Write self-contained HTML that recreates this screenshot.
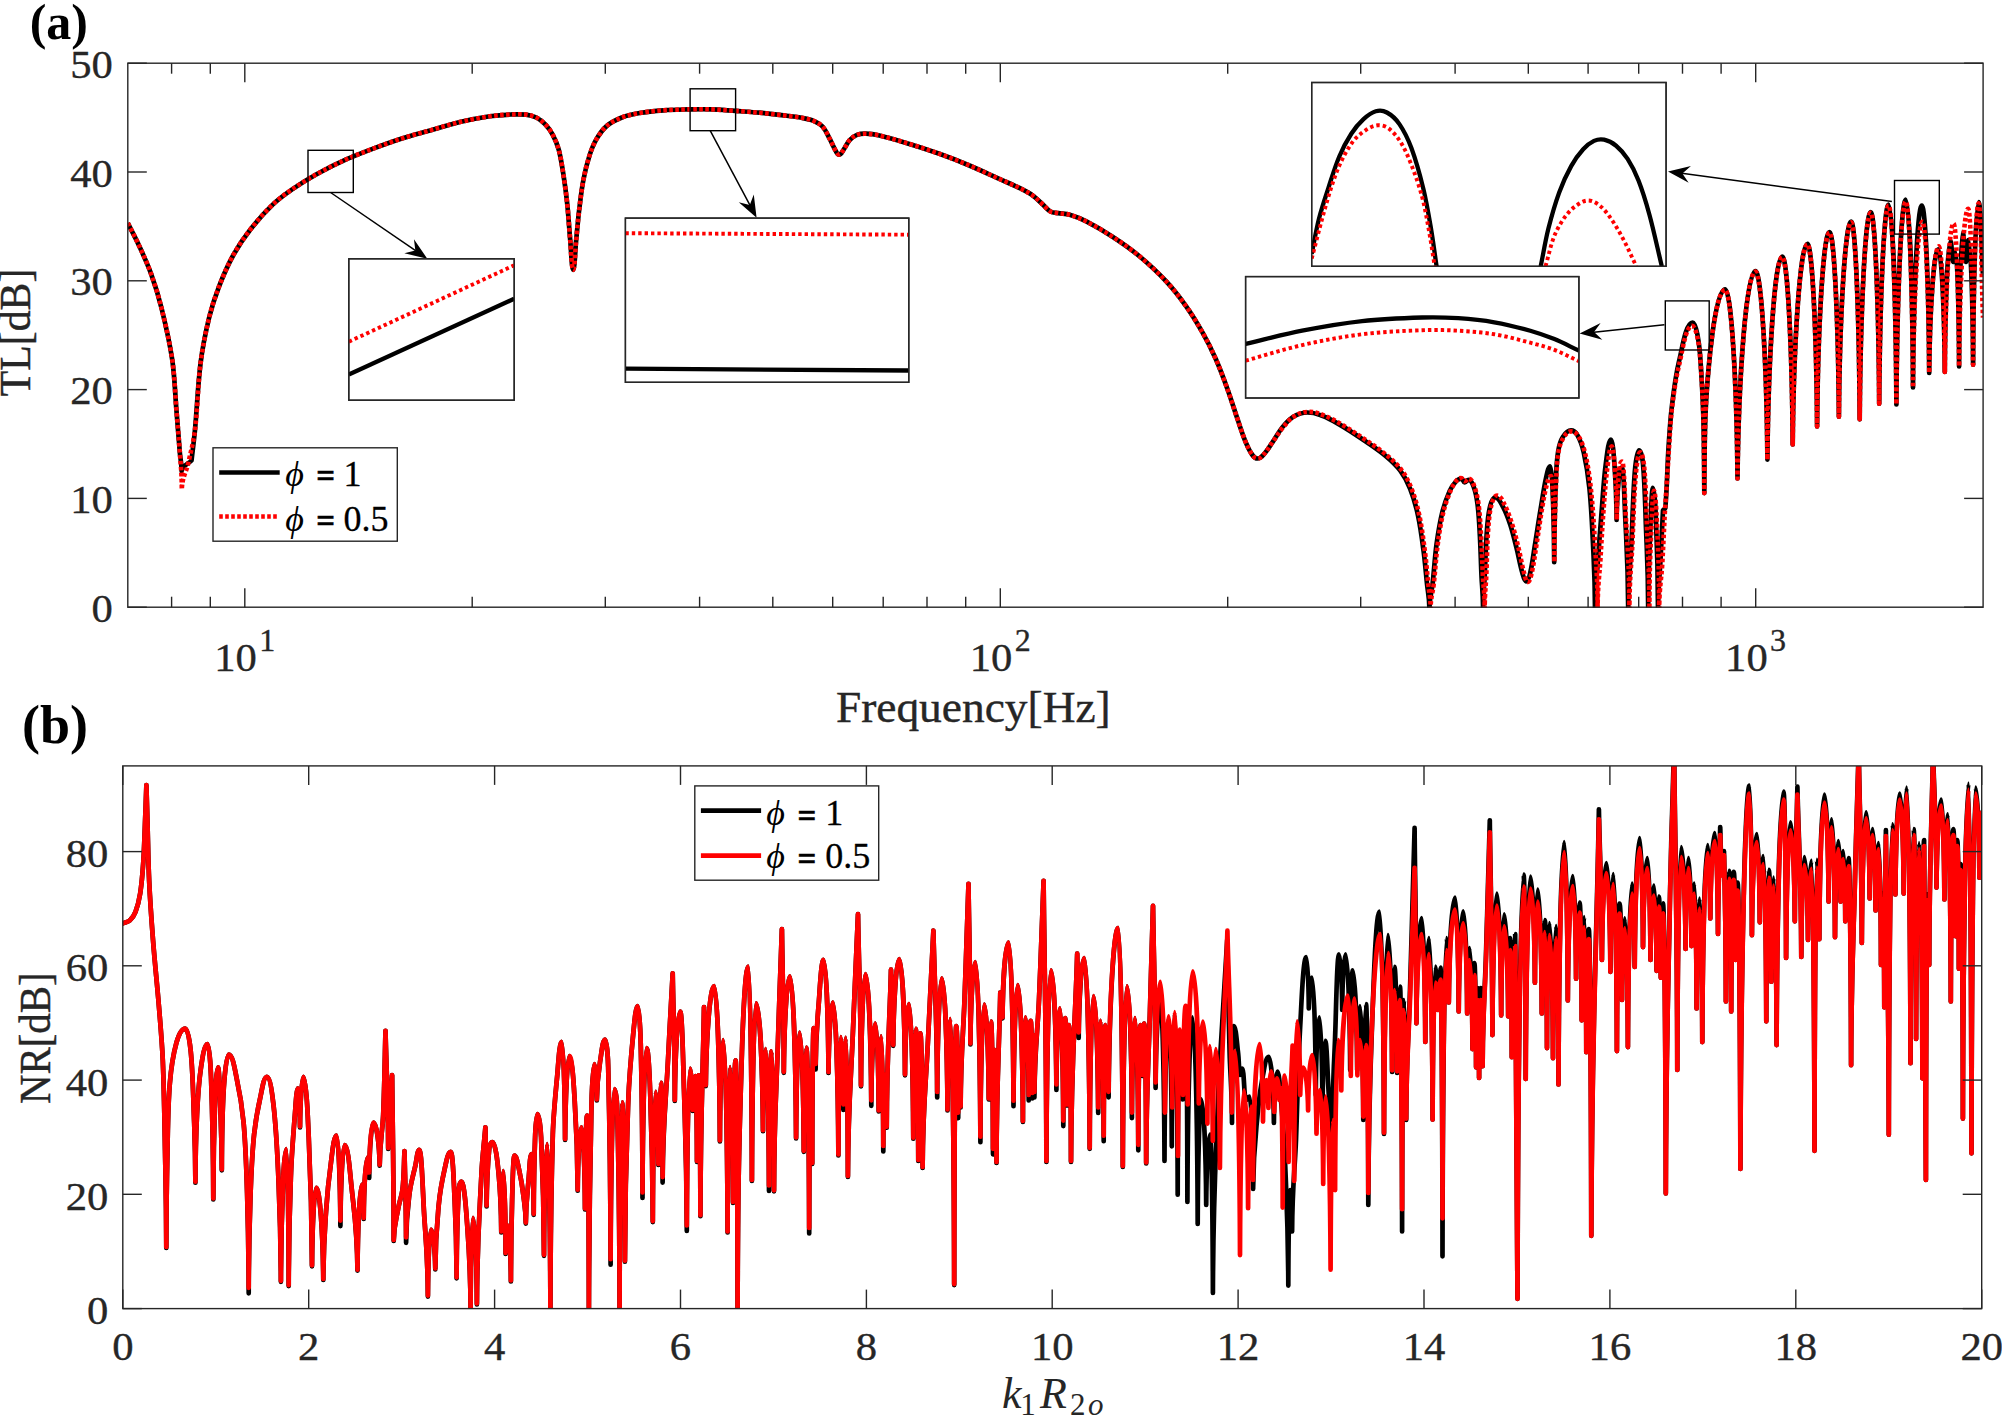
<!DOCTYPE html>
<html lang="en">
<head>
<meta charset="utf-8">
<title>TL and NR versus frequency</title>
<style>
html,body{margin:0;padding:0;background:#fff}
body{width:2002px;height:1415px;overflow:hidden}
svg{display:block}
.ax{fill:none;stroke:#262626;stroke-width:1.4}
.bx{fill:none;stroke:#000;stroke-width:1.4}
.arw{stroke:#000;stroke-width:1.5;fill:none}
.arh{fill:#000;stroke:none}
.kb{fill:none;stroke:#000;stroke-width:4.7;stroke-linejoin:round}
.rd{fill:none;stroke:#f00;stroke-width:4.6;stroke-dasharray:3.6 2.4;stroke-linejoin:round}
.kbi{fill:none;stroke:#000;stroke-width:4.3;stroke-linejoin:round}
.rdi{fill:none;stroke:#f00;stroke-width:3.9;stroke-dasharray:3.4 3;stroke-linejoin:round}
.rs{fill:none;stroke:#f00;stroke-width:4.7}
.kb2{fill:none;stroke:#000;stroke-width:4.7;stroke-linejoin:round;stroke-linecap:round}
.rd2{fill:none;stroke:#f00;stroke-width:4.7;stroke-linejoin:round;stroke-linecap:round}
text{font-family:"Liberation Serif", "DejaVu Serif", serif;fill:#262626}
.tk{font-size:40px;stroke:#262626;stroke-width:.35}
.sup{font-size:32px}
.lb{font-size:44px;stroke:#262626;stroke-width:.4}
.ttl{font-weight:bold;fill:#000}
.lg{font-size:36px;fill:#000;stroke:#000;stroke-width:.3}
.phi{font-style:italic;font-size:36px;stroke:none}
.eq{font-weight:bold;font-size:33px;stroke:#000;stroke-width:.5}
.xl{font-size:44px}
.it{font-style:italic}
.sb{font-size:31px}
.sbi{font-size:31px;font-style:italic}
</style>
</head>
<body>
<svg width="2002" height="1415" viewBox="0 0 2002 1415">
<rect x="0" y="0" width="2002" height="1415" fill="#fff"/>
<defs>
<clipPath id="ca"><rect x="127.8" y="63.2" width="1855.3" height="544.8"/></clipPath>
<clipPath id="cb"><rect x="122.8" y="765.9" width="1858.9" height="542.7"/></clipPath>
<clipPath id="ci1"><rect x="348.8" y="258.8" width="165.4" height="141.4"/></clipPath>
<clipPath id="ci2"><rect x="625.4" y="218.1" width="283.4" height="164.2"/></clipPath>
<clipPath id="ci3"><rect x="1245.6" y="276.6" width="333.3" height="121.4"/></clipPath>
<clipPath id="ci4"><rect x="1311.7" y="82.5" width="354.4" height="183.8"/></clipPath>
</defs>
<g id="plot-a">
<g clip-path="url(#ca)">
<path class="kb" d="M127.8 223C131.3 230.1 135.1 237 138.4 244.2C142.9 254 147.5 263.8 151.1 273.9C155.3 285.5 158.9 297.3 161.8 309.2C165.9 326 169.8 343 172.3 360.1C174.7 376.9 175.1 394 176.5 411C177.7 425.1 178.7 439.3 179.9 453.4C180.4 459.2 181.5 462.1 181.6 470.9C182.2 465.7 188.2 464 191.5 460.5C192.6 450.6 194 440.7 194.9 430.8C197 408.2 197.8 385.4 200.6 362.9C202.5 347.7 205.5 332.6 209.1 317.7C211.7 307.1 215.1 296.7 219 286.6C223.1 276 227.6 265.5 233.1 255.5C238 246.6 243.7 238 250 230C257 221 264.5 212.5 272.7 204.6C278.7 198.8 285.6 193.9 292.5 189.1C300.7 183.5 309.2 178.3 317.9 173.5C327.1 168.4 336.6 163.7 346.2 159.4C355.5 155.2 365 151.7 374.5 148.1C383.8 144.6 393.2 141.2 402.7 138.2C411.7 135.3 420.9 133 430 130.4C440 127.6 449.8 124.4 459.9 122C469.8 119.7 479.8 117.8 489.9 116.3C496.9 115.3 503.9 114.8 510.9 114.5C515.9 114.3 520.9 114 525.9 114.6C529.5 115 533.1 115.9 536.3 117.5C539.7 119.2 542.7 121.7 545.3 124.4C548.3 127.5 550.8 131.1 552.8 134.9C555.3 139.7 557.4 144.7 558.8 149.9C560.9 157.8 562 165.9 563.3 173.9C564.8 183.8 566.2 193.8 567.2 203.8C568.5 215.8 569.1 227.8 570.2 239.8C571.1 249.8 571.7 269.8 573.2 269.8C574.7 269.8 575.2 249.8 576.2 239.8C577.2 229.8 578 219.8 579.2 209.8C580.4 199.8 581.5 189.8 583.4 179.9C584.9 171.8 586.9 163.8 589.4 155.9C591.2 150.2 593.3 144.6 596.3 139.4C599.2 134.5 602.5 129.6 606.8 125.9C611.1 122.2 616.5 119.6 621.8 117.5C627.5 115.3 633.6 114 639.7 113C647.6 111.6 655.7 110.9 663.7 110.3C671.7 109.7 679.7 109.6 687.7 109.4C695.7 109.3 703.7 109.1 711.7 109.4C719.7 109.6 727.6 110.4 735.6 110.9C743.6 111.5 751.6 112 759.6 112.7C767.6 113.5 775.6 114.4 783.6 115.4C789.6 116.1 795.6 116.7 801.6 117.8C805.6 118.5 809.7 119.2 813.5 120.8C816.8 122.2 820.1 123.8 822.5 126.5C825.8 130.2 827.6 135 830 139.4C832.1 143.3 833.7 147.6 836 151.4C836.7 152.7 837.5 154.6 839 154.6C841.2 154.6 842.2 151.6 843.5 149.9C845.7 146.9 847 143.1 849.5 140.3C851.6 138 854.1 136 857 134.9C859.8 133.8 863 133.6 866 133.7C870.5 133.8 875.1 134.5 879.5 135.5C889.6 137.9 899.5 140.9 909.4 143.9C919.5 147 929.5 150.2 939.4 153.8C949.5 157.4 959.5 161.3 969.4 165.5C979.7 169.8 989.7 174.6 999.9 179.2C1006.6 182.2 1013.4 184.9 1019.9 188.2C1024.5 190.5 1029 192.8 1033.2 195.8C1036.8 198.4 1039.8 201.8 1043.1 204.8C1045.5 207 1047.5 209.9 1050.4 211.5C1052.7 212.8 1055.5 212.7 1058.1 213.1C1062 213.8 1066 213.7 1069.7 214.8C1075.4 216.5 1081 218.7 1086.3 221.4C1095.4 226.1 1104.3 231.4 1112.9 237C1122.1 243 1131.1 249.3 1139.5 256.3C1148.8 264.1 1157.7 272.3 1166 281.2C1173.3 289 1179.8 297.4 1186 306.1C1192.1 314.6 1197.5 323.6 1202.6 332.7C1207.5 341.3 1211.9 350.2 1215.9 359.3C1220.2 369.1 1223.9 379.1 1227.5 389.2C1231.1 399.1 1234.1 409.2 1237.5 419.1C1240.2 426.9 1242.6 434.8 1245.8 442.4C1247.6 446.8 1249.6 451.2 1252.4 455C1253.6 456.7 1254.9 458.5 1257.4 458.5C1260.8 458.5 1262.3 456 1264.1 454C1267.3 450.5 1269.7 446.3 1272.4 442.4C1275.8 437.5 1278.6 432.1 1282.3 427.4C1285.2 423.7 1288.3 419.8 1292.3 417.4C1296.8 414.7 1299.8 412.5 1307.2 412.5C1314.7 412.5 1317.4 414 1322.2 415.8C1328 417.9 1333.5 421 1338.8 424.1C1346.8 428.7 1354.5 433.8 1362.1 439C1370 444.3 1378 449.5 1385.3 455.6C1390.7 460.1 1396.1 464.9 1400.3 470.6C1404.5 476.2 1407.7 482.4 1410.2 488.9C1413.6 497.5 1416.1 506.4 1418 515.4C1420.6 527.4 1422.1 539.7 1423.7 551.9C1425.1 562.5 1425.9 573.2 1427 583.8C1427.8 592.2 1429.3 596.4 1429.4 609C1429.6 596.4 1431.7 592.2 1432.6 583.8C1434.1 570.5 1434.8 557.1 1436.6 543.9C1438.1 533.2 1439.8 522.4 1442.4 511.9C1444.2 504.8 1446.6 497.8 1449.6 491.1C1451.2 487.6 1453.3 484.3 1455.9 481.5C1457.3 480 1458.7 478.6 1461.5 478.6C1463.1 478.6 1463.1 482.3 1464.7 482.3C1466.7 482.3 1466.7 479.9 1468.7 479.9C1471.1 479.9 1472.6 483.8 1473.5 486.3C1475.6 491.9 1476.7 497.9 1477.5 503.9C1478.9 514.5 1479.3 525.2 1479.9 535.9C1480.6 549.2 1480.9 562.5 1481.5 575.8C1482 586.9 1483 592.4 1483.1 609C1483.2 592.4 1484.2 586.9 1484.7 575.8C1485.5 559.8 1485.8 543.8 1487.1 527.9C1487.7 520.4 1488.4 512.8 1490.3 505.5C1491.1 502.5 1492.7 497.5 1495.1 497.5C1498.7 497.5 1500.5 502.4 1502.3 505.5C1505.7 511.6 1508.1 518.1 1510.3 524.7C1512.9 532.6 1514.7 540.7 1516.7 548.7C1518.7 556.6 1520 564.7 1522.3 572.6C1523.2 575.7 1524.3 581.4 1526.3 581.4C1528.3 581.4 1529.6 575.7 1530.3 572.6C1532.5 563.2 1533.5 553.5 1535.1 543.9C1537 532.2 1538.7 520.4 1540.7 508.7C1542.5 498 1543.9 487.3 1546.3 476.7C1547.1 473.1 1548.3 466.3 1550.3 466.3C1551.4 466.3 1552.3 482.1 1552.6 490C1553.6 514.1 1554.1 526.1 1554.2 562.2C1554.3 521 1554.9 507.3 1555.9 479.9C1556.2 470.3 1556.6 460.7 1558.2 451.2C1559 446.2 1560.3 441.1 1563 436.8C1564.8 433.9 1567 430.4 1571 430.4C1574.2 430.4 1576.1 432.9 1577.4 435.2C1580.5 440.6 1582.4 446.6 1583.8 452.7C1586.4 464.3 1588.2 476.1 1589.4 487.9C1591.3 506.5 1592.1 525.2 1593 543.9C1594 565.6 1594.9 576.5 1595 609C1595.2 584.4 1596.9 576.2 1598 559.8C1599.1 543.8 1600.3 527.9 1601.6 511.9C1602.9 495.9 1603.7 479.8 1605.8 463.9C1606.9 455.7 1608.4 439.6 1611 439.6C1612.7 439.6 1613.8 455.7 1614.4 463.9C1615.7 482.5 1616.5 491.9 1616.6 519.9C1616.8 495.2 1617.9 486.9 1619.6 470.5C1619.7 469.2 1620.8 467.5 1622 467.5C1623.5 467.5 1624.4 497.1 1625 511.9C1626.4 544.3 1628 560.5 1628.2 609C1628.4 576.5 1630.4 565.6 1631.4 543.9C1632.6 519.9 1632.9 495.8 1634.8 471.9C1635.4 464.6 1636.9 450.4 1639 450.4C1641 450.4 1642.6 459.2 1643 463.9C1644.9 485.2 1645.2 506.6 1646 527.9C1647 554.9 1648.1 568.5 1648.2 609C1648.3 568.5 1649.4 554.9 1650.4 527.9C1650.9 514.6 1651.7 487.9 1652.9 487.9C1654.2 487.9 1655.3 503.9 1655.6 511.9C1657 544.2 1657.9 560.5 1658 609C1658.2 584.5 1659.7 576.3 1660.5 560C1661.3 543.4 1662.2 526.9 1663 510.3C1663.8 509.5 1665.2 509.1 1665.3 508C1667.1 488 1667.2 468 1668.5 448C1669.4 434.7 1670.1 421.3 1671.7 408C1673.6 392.4 1675.3 376.7 1679 361.5C1682.3 348.1 1685.8 322.5 1692.6 322.5C1696.3 322.5 1699.3 343.9 1700.1 355C1703.3 400.9 1704 424.1 1704.3 493.1C1704.6 424.1 1705.2 400.8 1709.9 355C1712.2 332.6 1717.5 289.3 1725.1 289.3C1731.3 289.3 1736.8 383.9 1737.5 478.5C1738.6 374.8 1746.5 271.1 1755.4 271.1C1761.4 271.1 1766.7 365.4 1767.4 459.6C1768.3 358.1 1774.8 256.5 1782.3 256.5C1787.5 256.5 1792.1 350.4 1792.7 444.4C1793.6 344.1 1800.1 243.8 1807.4 243.8C1812.2 243.8 1816.5 335.1 1817.1 426.5C1817.8 329.3 1823.3 232.1 1829.5 232.1C1834.2 232.1 1838.3 324.4 1838.9 416.7C1839.6 319.2 1845.1 221.7 1851.2 221.7C1855.5 221.7 1859.2 320.5 1859.7 419.3C1860.4 315.6 1865.2 212 1870.7 212C1875 212 1878.7 307.9 1879.2 403.7C1879.8 304.1 1883.9 204.5 1888.6 204.5C1892.5 204.5 1895.9 304.4 1896.4 404.4C1897 302 1901.1 199.6 1905.8 199.6C1909.4 199.6 1912.6 293.6 1913 387.5C1913.5 296.5 1917.4 205.5 1921.8 205.5C1925.5 205.5 1928.8 289.2 1929.2 372.9C1929.7 311.1 1933.8 249.4 1938.3 249.4C1941.5 249.4 1944.4 310.6 1944.8 371.9C1945.1 306.4 1947.7 241 1950.5 241C1951.8 241 1951.8 262 1953.2 262C1954.3 262 1954.3 252 1955.5 252C1957.3 252 1958.9 309.2 1959.1 366.4C1959.3 299.2 1960.8 232 1962.6 232C1964.3 232 1964.3 262 1966 262C1967.2 262 1967.2 240 1968.4 240C1970.8 240 1972.8 302.4 1973.1 364.7C1973.4 283.4 1975.8 202.2 1978.6 202.2C1980.8 202.2 1981.5 249.9 1982.9 273.7"/>
<path class="rd" d="M127.8 223C131.3 230.1 135.1 237 138.4 244.2C142.9 254 147.5 263.8 151.1 273.9C155.3 285.5 158.9 297.3 161.8 309.2C165.9 326 169.8 343 172.3 360.1C174.7 376.9 175.1 394 176.5 411C177.7 425.1 178.9 439.3 179.9 453.4C180.7 465.5 181.7 471.5 181.8 489.6C182.2 476.6 186.3 472.2 188.2 463.5C190.6 452.6 193.5 441.8 194.9 430.8C197.7 408.3 197.8 385.4 200.6 362.9C202.5 347.7 205.5 332.6 209.1 317.7C211.7 307.1 215.1 296.7 219 286.6C223.1 276 227.6 265.5 233.1 255.5C238 246.6 243.7 238 250 230C257 221 264.5 212.5 272.7 204.6C278.7 198.8 285.6 193.9 292.5 189.1C300.7 183.5 309.2 178.3 317.9 173.5C327.1 168.4 336.6 163.7 346.2 159.4C355.5 155.2 365 151.7 374.5 148.1C383.8 144.6 393.2 141.2 402.7 138.2C411.7 135.3 420.9 133 430 130.4C440 127.6 449.8 124.4 459.9 122C469.8 119.7 479.8 117.8 489.9 116.3C496.9 115.3 503.9 114.8 510.9 114.5C515.9 114.3 520.9 114 525.9 114.6C529.5 115 533.1 115.9 536.3 117.5C539.7 119.2 542.7 121.7 545.3 124.4C548.3 127.5 550.8 131.1 552.8 134.9C555.3 139.7 557.4 144.7 558.8 149.9C560.9 157.8 562 165.9 563.3 173.9C564.8 183.8 566.2 193.8 567.2 203.8C568.5 215.8 569.1 227.8 570.2 239.8C571.1 249.8 571.7 269.8 573.2 269.8C574.7 269.8 575.2 249.8 576.2 239.8C577.2 229.8 578 219.8 579.2 209.8C580.4 199.8 581.5 189.8 583.4 179.9C584.9 171.8 586.9 163.8 589.4 155.9C591.2 150.2 593.3 144.6 596.3 139.4C599.2 134.5 602.5 129.6 606.8 125.9C611.1 122.2 616.5 119.6 621.8 117.5C627.5 115.3 633.6 114 639.7 113C647.6 111.6 655.7 110.9 663.7 110.3C671.7 109.7 679.7 109.6 687.7 109.4C695.7 109.3 703.7 109.1 711.7 109.4C719.7 109.6 727.6 110.4 735.6 110.9C743.6 111.5 751.6 112 759.6 112.7C767.6 113.5 775.6 114.4 783.6 115.4C789.6 116.1 795.6 116.7 801.6 117.8C805.6 118.5 809.7 119.2 813.5 120.8C816.8 122.2 820.1 123.8 822.5 126.5C825.8 130.2 827.6 135 830 139.4C832.1 143.3 833.7 147.6 836 151.4C836.7 152.7 837.5 154.6 839 154.6C841.2 154.6 842.2 151.6 843.5 149.9C845.7 146.9 847 143.1 849.5 140.3C851.6 138 854.1 136 857 134.9C859.8 133.8 863 133.6 866 133.7C870.5 133.8 875.1 134.5 879.5 135.5C889.6 137.9 899.5 140.9 909.4 143.9C919.5 147 929.5 150.2 939.4 153.8C949.5 157.4 959.5 161.3 969.4 165.5C979.7 169.8 989.7 174.6 999.9 179.2C1006.6 182.2 1013.4 184.9 1019.9 188.2C1024.5 190.5 1029 192.8 1033.2 195.8C1036.8 198.4 1039.8 201.8 1043.1 204.8C1045.5 207 1047.5 209.9 1050.4 211.5C1052.7 212.8 1055.5 212.7 1058.1 213.1C1062 213.8 1066 213.7 1069.7 214.8C1075.4 216.5 1081 218.7 1086.3 221.4C1095.4 226.1 1104.3 231.4 1112.9 237C1122.1 243 1131.1 249.3 1139.5 256.3C1148.8 264.1 1157.7 272.3 1166 281.2C1173.3 289 1179.8 297.4 1186 306.1C1192.1 314.6 1197.5 323.6 1202.6 332.7C1207.5 341.3 1211.9 350.2 1215.9 359.3C1220.2 369.1 1223.9 379.1 1227.5 389.2C1231.1 399.1 1234.1 409.2 1237.5 419.1C1240.2 426.9 1242.6 434.8 1245.8 442.4C1247.6 446.8 1249.6 451.2 1252.4 455C1253.6 456.7 1254.9 458.5 1257.4 458.5C1260.8 458.5 1262.3 456 1264.1 454C1267.3 450.5 1269.6 446.3 1272.4 442.4C1276.1 437.2 1279.4 431.7 1283.5 426.8C1286.5 423.2 1289.5 419.2 1293.5 416.8C1298 414.1 1301 411.9 1308.4 411.9C1315.9 411.9 1318.6 413.4 1323.4 415.2C1329.2 417.3 1334.7 420.4 1340 423.5C1348 428.1 1355.7 433.2 1363.3 438.4C1371.2 443.7 1379.2 448.9 1386.5 455C1391.9 459.5 1397.3 464.3 1401.5 470C1405.7 475.6 1408.9 481.8 1411.4 488.3C1414.8 496.9 1417.3 505.8 1419.2 514.8C1421.8 526.8 1423.3 539.1 1424.9 551.3C1426.3 561.9 1427.1 572.6 1428.2 583.2C1429 591.8 1430.5 596.1 1430.6 609C1430.8 596.4 1432.9 592.2 1433.8 583.8C1435.3 570.5 1436 557.1 1437.8 543.9C1439.2 533.2 1440.9 522.4 1443.4 511.9C1445.1 504.8 1447.6 497.9 1450.4 491.1C1451.9 487.5 1453.8 484 1456.2 481C1457.4 479.5 1458.6 478 1461 478C1462.8 478 1462.8 481.3 1464.7 481.3C1466.8 481.3 1466.8 478.6 1468.9 478.6C1471.6 478.6 1473.2 483.4 1474.3 486.3C1476.4 491.9 1477.7 497.9 1478.5 503.9C1480 514.5 1480.4 525.2 1481.1 535.9C1481.9 549.2 1482.2 562.5 1482.9 575.8C1483.4 586.9 1484.6 592.4 1484.7 609C1484.8 592.4 1485.8 586.9 1486.3 575.8C1487 559.8 1487.1 543.8 1488.3 527.9C1488.9 520 1489.5 512.1 1491.5 504.5C1492.4 501.1 1494.2 495.5 1497 495.5C1500.8 495.5 1502.7 501 1504.5 504.5C1507.8 510.9 1510.1 517.8 1512.3 524.7C1514.8 532.6 1516.7 540.7 1518.7 548.7C1520.6 556.6 1521.8 564.7 1524 572.6C1524.9 575.9 1525.9 582 1527.8 582C1529.8 582 1531 575.9 1531.8 572.6C1534 563.1 1535.1 553.5 1536.6 543.9C1538.5 532.2 1540 520.4 1542 508.7C1543.5 500 1544.9 491.2 1547.3 482.7C1548 480.2 1549.2 476 1551.1 476C1552 476 1552.8 488.6 1553 495C1553.9 517.4 1554.3 528.6 1554.4 562.2C1554.5 521 1555.2 507.3 1556.2 479.9C1556.6 470.3 1557 460.7 1558.6 451.2C1559.4 446.5 1560.9 441.8 1563.4 437.8C1565.2 435 1567.3 431.4 1571.2 431.4C1574.8 431.4 1576.8 433.8 1578.4 436.2C1581.6 441.2 1583.6 446.9 1585 452.7C1587.8 464.3 1589.5 476.1 1590.8 487.9C1592.8 506.5 1594 525.2 1595 543.9C1596.2 565.6 1597.4 576.5 1597.6 609C1597.8 584.4 1599.4 576.2 1600.4 559.8C1601.4 543.8 1602.2 527.9 1603.4 511.9C1604.5 497.6 1605.4 483.2 1607.2 468.9C1608.2 461.3 1609.5 446.4 1611.8 446.4C1613.3 446.4 1614.3 461.4 1614.8 468.9C1616 485.9 1616.7 494.4 1616.8 519.9C1617 492.9 1617.9 483.9 1619.6 466C1619.8 464.3 1620.9 461.5 1622.2 461.5C1623.9 461.5 1624.8 495.1 1625.6 511.9C1627.2 544.3 1629.2 560.5 1629.4 609C1629.6 576.5 1631.4 565.6 1632.4 543.9C1633.5 520.9 1633.8 497.8 1635.8 474.9C1636.4 467.3 1638 452.4 1640.2 452.4C1642.2 452.4 1643.8 461.9 1644.2 466.9C1646 487.2 1646.3 507.6 1647 527.9C1648 554.9 1649.3 568.5 1649.4 609C1649.5 568.5 1650.3 554.9 1651.4 527.9C1651.9 515.5 1652.7 490.9 1654 490.9C1655.3 490.9 1656.2 507.5 1656.6 515.9C1658 546.9 1659 562.5 1659.2 609C1659.4 587 1661.3 579.7 1662.2 565C1663.3 546.7 1664 528.3 1665 510C1665.6 500 1666.4 490 1667 480C1667.7 469.3 1668.3 458.7 1669 448C1669.9 434.7 1670.4 421.3 1672 408C1673.8 393.4 1675.7 378.8 1679.2 364.5C1682.4 351.3 1685.7 325.8 1692.2 325.8C1696.2 325.8 1699.3 345.6 1700.1 356C1703.4 401.6 1704 424.6 1704.3 493.1C1704.6 424.1 1705.2 400.8 1709.9 355C1712.2 332.8 1717.5 289.8 1725.1 289.8C1731.3 289.8 1736.8 384.1 1737.5 478.5C1738.6 375.1 1746.5 271.6 1755.4 271.6C1761.4 271.6 1766.7 365.6 1767.4 459.6C1768.3 358.3 1774.8 257 1782.3 257C1787.5 257 1792.1 350.7 1792.7 444.4C1793.6 344.4 1800.1 244.3 1807.4 244.3C1812.2 244.3 1816.5 335.4 1817.1 426.5C1817.8 329.6 1823.3 232.6 1829.5 232.6C1834.2 232.6 1838.3 324.6 1838.9 416.7C1839.6 319.4 1845.1 222.2 1851.2 222.2C1855.5 222.2 1859.2 320.8 1859.7 419.3C1860.4 316.1 1865.2 212.8 1870.7 212.8C1875 212.8 1878.7 308.2 1879.2 403.7C1879.8 304.6 1883.9 205.5 1888.6 205.5C1892.5 205.5 1895.9 304.9 1896.4 404.4C1897 303 1901.1 201.6 1905.8 201.6C1909.4 201.6 1912.6 294.6 1913 387.5C1913.6 304.6 1917.7 221.7 1922.4 221.7C1925.8 221.7 1928.8 297.3 1929.2 372.9C1929.8 309.6 1934 246.4 1938.8 246.4C1941.8 246.4 1944.4 309.1 1944.8 371.9C1945.3 297.6 1949.2 223.4 1953.6 223.4C1956.3 223.4 1958.8 294.9 1959.1 366.4C1959.6 287.5 1963.7 208.7 1968.2 208.7C1970.7 208.7 1972.8 286.7 1973.1 364.7C1973.4 283.9 1975.8 203.2 1978.6 203.2C1980.8 203.2 1981.5 279.5 1983 317.6"/>
</g>
<rect class="ax" x="127.8" y="63.2" width="1855.3" height="544"/>
<line class="ax" x1="171.6" y1="607.2" x2="171.6" y2="596.7"/>
<line class="ax" x1="171.6" y1="63.2" x2="171.6" y2="73.7"/>
<line class="ax" x1="210.3" y1="607.2" x2="210.3" y2="596.7"/>
<line class="ax" x1="210.3" y1="63.2" x2="210.3" y2="73.7"/>
<line class="ax" x1="472.2" y1="607.2" x2="472.2" y2="596.7"/>
<line class="ax" x1="472.2" y1="63.2" x2="472.2" y2="73.7"/>
<line class="ax" x1="605.3" y1="607.2" x2="605.3" y2="596.7"/>
<line class="ax" x1="605.3" y1="63.2" x2="605.3" y2="73.7"/>
<line class="ax" x1="699.6" y1="607.2" x2="699.6" y2="596.7"/>
<line class="ax" x1="699.6" y1="63.2" x2="699.6" y2="73.7"/>
<line class="ax" x1="772.8" y1="607.2" x2="772.8" y2="596.7"/>
<line class="ax" x1="772.8" y1="63.2" x2="772.8" y2="73.7"/>
<line class="ax" x1="832.7" y1="607.2" x2="832.7" y2="596.7"/>
<line class="ax" x1="832.7" y1="63.2" x2="832.7" y2="73.7"/>
<line class="ax" x1="883.2" y1="607.2" x2="883.2" y2="596.7"/>
<line class="ax" x1="883.2" y1="63.2" x2="883.2" y2="73.7"/>
<line class="ax" x1="927" y1="607.2" x2="927" y2="596.7"/>
<line class="ax" x1="927" y1="63.2" x2="927" y2="73.7"/>
<line class="ax" x1="965.7" y1="607.2" x2="965.7" y2="596.7"/>
<line class="ax" x1="965.7" y1="63.2" x2="965.7" y2="73.7"/>
<line class="ax" x1="1227.7" y1="607.2" x2="1227.7" y2="596.7"/>
<line class="ax" x1="1227.7" y1="63.2" x2="1227.7" y2="73.7"/>
<line class="ax" x1="1360.7" y1="607.2" x2="1360.7" y2="596.7"/>
<line class="ax" x1="1360.7" y1="63.2" x2="1360.7" y2="73.7"/>
<line class="ax" x1="1455.1" y1="607.2" x2="1455.1" y2="596.7"/>
<line class="ax" x1="1455.1" y1="63.2" x2="1455.1" y2="73.7"/>
<line class="ax" x1="1528.3" y1="607.2" x2="1528.3" y2="596.7"/>
<line class="ax" x1="1528.3" y1="63.2" x2="1528.3" y2="73.7"/>
<line class="ax" x1="1588.1" y1="607.2" x2="1588.1" y2="596.7"/>
<line class="ax" x1="1588.1" y1="63.2" x2="1588.1" y2="73.7"/>
<line class="ax" x1="1638.7" y1="607.2" x2="1638.7" y2="596.7"/>
<line class="ax" x1="1638.7" y1="63.2" x2="1638.7" y2="73.7"/>
<line class="ax" x1="1682.5" y1="607.2" x2="1682.5" y2="596.7"/>
<line class="ax" x1="1682.5" y1="63.2" x2="1682.5" y2="73.7"/>
<line class="ax" x1="1721.1" y1="607.2" x2="1721.1" y2="596.7"/>
<line class="ax" x1="1721.1" y1="63.2" x2="1721.1" y2="73.7"/>
<line class="ax" x1="244.8" y1="607.2" x2="244.8" y2="588.2"/>
<line class="ax" x1="244.8" y1="63.2" x2="244.8" y2="82.2"/>
<line class="ax" x1="1000.3" y1="607.2" x2="1000.3" y2="588.2"/>
<line class="ax" x1="1000.3" y1="63.2" x2="1000.3" y2="82.2"/>
<line class="ax" x1="1755.7" y1="607.2" x2="1755.7" y2="588.2"/>
<line class="ax" x1="1755.7" y1="63.2" x2="1755.7" y2="82.2"/>
<line class="ax" x1="127.8" y1="607.2" x2="146.8" y2="607.2"/>
<line class="ax" x1="1983.1" y1="607.2" x2="1964.1" y2="607.2"/>
<text class="tk" x="112.8" y="621.8" text-anchor="end" textLength="21.3" lengthAdjust="spacingAndGlyphs">0</text>
<line class="ax" x1="127.8" y1="498.4" x2="146.8" y2="498.4"/>
<line class="ax" x1="1983.1" y1="498.4" x2="1964.1" y2="498.4"/>
<text class="tk" x="112.8" y="513" text-anchor="end" textLength="42.6" lengthAdjust="spacingAndGlyphs">10</text>
<line class="ax" x1="127.8" y1="389.6" x2="146.8" y2="389.6"/>
<line class="ax" x1="1983.1" y1="389.6" x2="1964.1" y2="389.6"/>
<text class="tk" x="112.8" y="404.2" text-anchor="end" textLength="42.6" lengthAdjust="spacingAndGlyphs">20</text>
<line class="ax" x1="127.8" y1="280.8" x2="146.8" y2="280.8"/>
<line class="ax" x1="1983.1" y1="280.8" x2="1964.1" y2="280.8"/>
<text class="tk" x="112.8" y="295.4" text-anchor="end" textLength="42.6" lengthAdjust="spacingAndGlyphs">30</text>
<line class="ax" x1="127.8" y1="172" x2="146.8" y2="172"/>
<line class="ax" x1="1983.1" y1="172" x2="1964.1" y2="172"/>
<text class="tk" x="112.8" y="186.6" text-anchor="end" textLength="42.6" lengthAdjust="spacingAndGlyphs">40</text>
<line class="ax" x1="127.8" y1="63.2" x2="146.8" y2="63.2"/>
<line class="ax" x1="1983.1" y1="63.2" x2="1964.1" y2="63.2"/>
<text class="tk" x="112.8" y="77.8" text-anchor="end" textLength="42.6" lengthAdjust="spacingAndGlyphs">50</text>
<text class="tk" x="214.2" y="670.5"><tspan textLength="42.6" lengthAdjust="spacingAndGlyphs">10</tspan><tspan class="sup" dx="2.4" dy="-19.6">1</tspan></text>
<text class="tk" x="969.7" y="670.5"><tspan textLength="42.6" lengthAdjust="spacingAndGlyphs">10</tspan><tspan class="sup" dx="2.4" dy="-19.6">2</tspan></text>
<text class="tk" x="1725.1" y="670.5"><tspan textLength="42.6" lengthAdjust="spacingAndGlyphs">10</tspan><tspan class="sup" dx="2.4" dy="-19.6">3</tspan></text>
<text class="lb" x="835.9" y="721.9" textLength="274.8" lengthAdjust="spacingAndGlyphs">Frequency[Hz]</text>
<text class="lb" transform="translate(29.7 396.3) rotate(-90)" textLength="127.7" lengthAdjust="spacingAndGlyphs">TL[dB]</text>
<text class="ttl" x="29.7" y="38.6" style="font-size:50px">(a)</text>
<rect class="bx" x="308" y="150.3" width="45.3" height="42.2"/>
<rect class="bx" x="690.1" y="88.8" width="45.5" height="41.9"/>
<rect class="bx" x="1665.3" y="300.9" width="43.9" height="49.1"/>
<rect class="bx" x="1894.5" y="180.5" width="44.8" height="53.6"/>
<line class="arw" x1="330.6" y1="192.5" x2="417.4" y2="251.9"/>
<polygon class="arh" transform="translate(427.3 258.7) rotate(34.4)" points="0,0 -22,-8.5 -14.5,0 -22,8.5"/>
<line class="arw" x1="710.2" y1="130.7" x2="751" y2="207.2"/>
<polygon class="arh" transform="translate(756.6 217.8) rotate(62)" points="0,0 -22,-8.5 -14.5,0 -22,8.5"/>
<line class="arw" x1="1664.4" y1="324.8" x2="1591.5" y2="332.4"/>
<polygon class="arh" transform="translate(1579.6 333.6) rotate(174.1)" points="0,0 -22,-8.5 -14.5,0 -22,8.5"/>
<line class="arw" x1="1891.9" y1="201.6" x2="1679.9" y2="173.1"/>
<polygon class="arh" transform="translate(1668 171.5) rotate(-172.3)" points="0,0 -22,-8.5 -14.5,0 -22,8.5"/>
<rect class="ax" x="348.8" y="258.8" width="165.4" height="141.4" fill="#fff"/>
<g clip-path="url(#ci1)">
<path class="kbi" d="M348.8 374.6L514.2 298.8"/>
<path class="rdi" d="M348.8 341.7L514.2 265.3"/>
</g>
<rect class="ax" x="348.8" y="258.8" width="165.4" height="141.4"/>
<rect class="ax" x="625.4" y="218.1" width="283.4" height="164.2" fill="#fff"/>
<g clip-path="url(#ci2)">
<path class="kbi" d="M625.4 368.7L908.8 370.5"/>
<path class="rdi" d="M625.4 233.2L908.8 234.7"/>
</g>
<rect class="ax" x="625.4" y="218.1" width="283.4" height="164.2"/>
<rect class="ax" x="1245.6" y="276.6" width="333.3" height="121.4" fill="#fff"/>
<g clip-path="url(#ci3)">
<path class="kbi" d="M1245.6 343.9C1264.4 339.5 1283.1 334.4 1302.1 330.7C1322 326.8 1342 323.3 1362.1 321.1C1382 318.9 1402.1 318.1 1422.2 317.5C1434.2 317.1 1446.3 317.4 1458.3 318.2C1470.4 319 1482.4 320.2 1494.3 322.3C1506.4 324.4 1518.4 327.4 1530.3 330.7C1538.5 333 1546.5 335.9 1554.4 339.1C1562.7 342.5 1570.7 346.8 1578.9 350.6"/>
<path class="rdi" d="M1245.6 360.7C1264.4 355.5 1283 349.4 1302.1 345.1C1321.9 340.6 1341.9 336.8 1362.1 334.3C1382 331.8 1402.1 331 1422.2 330.2C1434.2 329.7 1446.3 330 1458.3 330.7C1470.3 331.4 1482.4 332.3 1494.3 334.3C1506.5 336.3 1518.4 339.6 1530.3 342.7C1538.4 344.8 1546.6 346.9 1554.4 349.9C1562.8 353.1 1570.7 357.4 1578.9 361.2"/>
</g>
<rect class="ax" x="1245.6" y="276.6" width="333.3" height="121.4"/>
<rect class="ax" x="1311.7" y="82.5" width="354.4" height="183.8" fill="#fff"/>
<g clip-path="url(#ci4)">
<path class="kbi" d="M1311.7 253.8C1314.1 242.2 1316 230.5 1318.9 219C1321.6 208.4 1325.1 198.1 1328.5 187.7C1331.9 177.2 1335 166.6 1339.3 156.5C1342.6 148.6 1346.6 140.9 1351.3 133.7C1354.7 128.4 1358.7 123.5 1363.3 119.3C1367 116 1371 112.7 1375.8 111.3C1379.4 110.3 1383.6 110.7 1386.9 112.5C1391.9 115.2 1396.2 119.4 1399.4 124.1C1404.5 131.5 1408.3 139.7 1411.4 148.1C1416.3 161.4 1420 175.1 1423.4 188.9C1426.4 201.2 1428.5 213.7 1430.6 226.2C1432.9 239.5 1434.6 252.9 1436.6 266.3"/>
<path class="rdi" d="M1311.7 258.6C1316.5 240.6 1320.9 222.5 1326.1 204.6C1329.7 192.4 1333.2 180.2 1338.1 168.5C1342 159.3 1346.6 150.2 1352.5 142.1C1356 137.3 1360.8 133.4 1365.8 130.1C1369.4 127.7 1373.5 125.6 1377.8 125.3C1381.5 125 1385.6 126.2 1388.6 128.4C1393.5 132 1397.4 137 1400.6 142.1C1405.1 149.2 1408.3 157.1 1411.4 164.9C1415.5 175.5 1419.3 186.3 1422.2 197.3C1425.3 209.2 1427.2 221.3 1429.4 233.4C1431.4 244.3 1432.9 255.3 1434.7 266.3"/>
<path class="kbi" d="M1540.7 266.3C1543.3 253.7 1545.3 241 1548.4 228.6C1551.5 216.4 1554.9 204.3 1559.2 192.5C1562.5 183.4 1566.5 174.5 1571.2 166.1C1574.5 160.1 1578.6 154.4 1583.2 149.3C1586.3 145.9 1589.9 142.8 1594 140.9C1597.1 139.5 1600.8 139 1604.1 139.7C1608.5 140.6 1612.6 142.9 1616.1 145.7C1620.6 149.4 1624.4 154 1627.6 158.9C1632 165.7 1635.6 173 1638.5 180.5C1642.8 191.5 1646.2 202.8 1649.3 214.2C1654 231.4 1657.6 248.9 1661.8 266.3"/>
<path class="rdi" d="M1545.5 266.3C1548.5 256.1 1550.5 245.6 1554.4 235.8C1557.1 229 1560.9 222.6 1565.2 216.6C1568.2 212.5 1571.8 208.7 1576 205.8C1579.6 203.3 1583.6 200.5 1588 200.5C1592.4 200.5 1596.6 203 1600 205.8C1604.8 209.8 1608.5 215.1 1612 220.2C1616.5 226.7 1620.3 233.6 1624 240.6C1627.9 248 1631.3 255.8 1634.9 263.4C1635.4 264.4 1635.8 265.3 1636.2 266.3"/>
</g>
<rect class="ax" x="1311.7" y="82.5" width="354.4" height="183.8"/>
<rect class="ax" x="213" y="447.8" width="184.3" height="93.4" fill="#fff"/>
<line class="kb" x1="219.2" y1="472.5" x2="279.7" y2="472.5"/>
<line class="rd" x1="219.2" y1="516.5" x2="277.5" y2="516.5"/>
<text class="lg" x="285.2" y="485.8"><tspan class="phi">&#981;</tspan><tspan class="eq" x="316.2" dy="1.6">=</tspan><tspan x="343.6" dy="-1.6">1</tspan></text>
<text class="lg" x="285.2" y="530.5"><tspan class="phi">&#981;</tspan><tspan class="eq" x="316.2" dy="1.6">=</tspan><tspan x="343.6" dy="-1.6">0.5</tspan></text>
</g>
<g id="plot-b">
<g clip-path="url(#cb)">
<path class="kb2" d="M123.1 923.2C125.3 922.3 127.9 922.1 129.7 920.5C132.3 918.2 134.3 915.1 135.5 911.9C137.8 905.9 139.2 899.6 140.2 893.3C141.8 883 142.6 872.6 143.3 862.2C144.3 846.7 144.7 831.1 145.3 815.5C145.7 805.4 146.1 795.2 146.4 785.2C146.8 799.1 147.2 813.2 147.6 827.2C148.1 845.3 148.3 863.5 149.2 881.6C150.1 901.1 151.5 920.5 153 939.9C154.7 962 157.1 984 158.9 1006C160.4 1024.1 162 1042.2 162.8 1060.4C164.1 1091.5 164.5 1122.6 165.1 1153.7C165.7 1185.1 166.2 1200.8 166.3 1248C166.4 1200.8 166.7 1185.1 167.4 1153.7C167.9 1130.4 167.9 1107 169.8 1083.8C170.9 1070 172.7 1056.2 176.4 1042.9C177.9 1037.5 180.9 1028.6 185.3 1028.6C188 1028.6 189.9 1043.2 190.7 1050.7C192.8 1072 193.1 1093.5 193.9 1114.9C194.7 1137.5 195.3 1148.8 195.4 1182.7C195.5 1148.8 195.9 1137.5 197 1114.9C197.7 1099.3 198.6 1083.7 200.9 1068.2C202.1 1060 204.2 1044.1 207.5 1044.1C209.2 1044.1 210.6 1065.3 211 1076C212.5 1117.1 213.2 1137.7 213.3 1199.4C213.4 1147.4 214 1130.1 215.2 1095.4C215.5 1086 216.6 1067.4 218 1067.4C219.2 1067.4 219.8 1093.9 220.3 1107.1C221.1 1128.2 221.7 1138.7 221.8 1170.3C221.9 1128.9 222.1 1115.1 223.8 1087.6C224.5 1076.5 226.3 1054.6 228.8 1054.6C232.7 1054.6 234.9 1069.9 236.6 1077.9C239.8 1092.6 242.2 1107.6 243.6 1122.6C245.7 1145.9 246.4 1169.2 247.1 1192.6C248.1 1226.2 248.6 1242.9 248.7 1293.3C248.8 1242.9 249.5 1226.2 250.6 1192.6C251.3 1173.1 252.1 1153.7 254.1 1134.3C255.5 1121.2 257.8 1108.2 260.7 1095.4C262.1 1089 263.8 1076.8 266.9 1076.8C270.2 1076.8 272.4 1095.5 273.5 1105.1C276.1 1127.7 277.2 1150.5 278.2 1173.2C279.7 1209.4 280.7 1227.5 280.9 1281.8C281 1229.4 281.9 1212 283.3 1177.1C283.7 1167.7 284.9 1149.1 286.4 1149.1C287.5 1149.1 288.6 1217.6 288.7 1286.1C288.8 1229.7 289.6 1210.8 291 1173.2C291.7 1153.7 293.3 1134.3 294.9 1114.9C295.6 1106 296.4 1088.4 298 1088.4C299 1088.4 299.9 1108 300 1127.5C300.2 1102.2 301.8 1076.8 303.5 1076.8C305.6 1076.8 307.2 1103.4 307.8 1116.8C310 1166.6 311.7 1191.5 312 1266.3C312.3 1227.1 314.1 1187.9 316.3 1187.9C319.8 1187.9 322.9 1233.9 323.3 1279.9C323.5 1246 324.5 1234.6 326 1212C327.1 1195.1 328.8 1178.3 331.1 1161.5C332.3 1152.7 333.8 1135.5 336.5 1135.5C338.4 1135.5 340.2 1180.8 340.4 1226.1C340.7 1185.7 342.5 1145.2 344.7 1145.2C348 1145.2 349.9 1171.5 351.3 1184.8C354.2 1213.3 357.1 1227.7 357.5 1270.6C357.8 1227.7 359.6 1184.8 361.8 1184.8C362.8 1184.8 363.6 1201.8 363.7 1218.9C363.9 1188.2 365.6 1157.6 367.6 1157.6C368.4 1157.6 369.1 1167.8 369.2 1177.9C369.5 1150.2 371.3 1122.6 373.4 1122.6C376.5 1122.6 379.3 1144.1 379.7 1165.6C379.9 1140.2 382.5 1131.8 383.2 1114.9C384.4 1086.9 384.8 1058.6 385.5 1030.9C386.3 1069.8 388 1089.9 388.2 1148.9C388.4 1112.1 390.9 1099.5 392.1 1075.2C392.6 1129.9 393.6 1158.1 393.7 1241C394 1224.5 396.4 1219 398.3 1208.1C399.4 1201.6 401.9 1195.3 402.6 1188.7C404 1176.2 403.9 1163.4 404.5 1151C405 1181.3 406 1196.9 406.1 1242.8C406.3 1217.7 407.6 1209.3 409.6 1192.6C410.7 1183.4 413.4 1174.4 415.4 1165.4C416.6 1160.2 417.4 1149.8 419.3 1149.8C421.6 1149.8 422.8 1191.2 424 1212C425.7 1240.2 427.7 1254.3 427.9 1296.6C428.1 1263 429.4 1229.5 431 1229.5C433.1 1229.5 435 1249.5 435.3 1269.4C435.5 1236.8 436.8 1225.9 438.8 1204.3C439.9 1192.5 442 1180.8 444.6 1169.3C446 1163.3 447.7 1151.8 450.8 1151.8C452.6 1151.8 453.7 1179 454.3 1192.6C455.6 1221.1 456.5 1235.4 456.6 1278.3C456.7 1235.4 457.2 1221.1 458.6 1192.6C458.8 1188.9 460 1181.7 461.3 1181.7C464.2 1181.7 466.1 1209.6 467.1 1223.7C469.2 1252.2 470.4 1266.6 470.6 1309.4C470.7 1263.7 471.8 1217.9 473 1217.9C474.9 1217.9 476.7 1261.2 476.9 1304.4C477.2 1238.8 479.4 1216.9 481.5 1173.2C482.2 1157.9 484.2 1142.4 485.4 1127.3C485.8 1153.4 486.5 1166.8 486.6 1206.4C486.8 1177.2 487.5 1167.3 489.3 1147.9C489.5 1145.7 490.9 1142.1 492.4 1142.1C495.5 1142.1 497.6 1162.7 498.6 1173.2C500.5 1192.9 501.1 1202.8 501.3 1232.5C501.4 1201.8 502.3 1171.2 503.3 1171.2C504.5 1171.2 505.5 1212.6 505.6 1253.9C505.7 1239.8 506.8 1225.6 507.9 1225.6C509.4 1225.6 510.7 1253.5 510.9 1281.4C511 1237.3 511.5 1222.7 512.3 1193.3C512.6 1180.8 513.3 1155.7 514.4 1155.7C516.9 1155.7 518.2 1166 519.4 1171.3C521.2 1179.5 522.5 1187.9 523.5 1196.2C524.6 1205.3 525.7 1209.9 525.8 1223.6C526 1201.1 527.5 1193.6 528.7 1178.6C529.4 1170.4 530 1154 531.4 1154C532.5 1154 533.6 1184.4 533.7 1214.8C533.8 1174.7 534.2 1161.3 535.2 1134.6C535.5 1127.7 536.4 1114.1 537.5 1114.1C539.3 1114.1 540.7 1129.6 541.1 1137.5C542.9 1176.9 543.8 1196.7 544 1255.8C544.2 1199.9 545.6 1144 547.2 1144C548.8 1144 550.2 1226.6 550.4 1309.2C550.5 1221.9 551.1 1192.8 552.8 1134.6C553.4 1115 555.3 1095.5 557.2 1076C558.3 1064.6 559.4 1041.9 561.6 1041.9C563.4 1041.9 564.9 1091 565.1 1140C565.4 1098 567.3 1056 569.5 1056C571.7 1056 573.3 1077.1 573.9 1087.7C576 1122 577.5 1139.2 577.7 1190.7C577.9 1159 579.6 1127.3 581.5 1127.3C583.2 1127.3 584.8 1168.4 585 1209.5C585.1 1162.5 586 1115.5 587.1 1115.5C588 1115.5 588.8 1213.5 588.9 1311.6C589.1 1208.4 590 1174.1 591.5 1105.3C591.8 1091.6 593 1064.2 594.4 1064.2C595.6 1064.2 596.7 1082.3 596.8 1100.4C597.1 1077.2 599.1 1069.4 601.2 1054C601.9 1049.1 603.1 1039.6 605 1039.6C606.6 1039.6 608 1057.9 608.2 1067.2C609.8 1133 610.5 1166 610.6 1264.7C610.8 1176.9 612.5 1089.1 614.4 1089.1C615.8 1089.1 617.1 1103.7 617.3 1111.1C618.9 1177.1 619.5 1210.2 619.6 1309.2C619.7 1205.8 620.8 1102.3 622 1102.3C623.5 1102.3 624.7 1182 624.9 1261.7C625.1 1182 626.2 1155.4 628.2 1102.3C629.1 1078.8 631.1 1055.4 633.4 1032C634.3 1023.3 635.6 1006.2 637.8 1006.2C639.3 1006.2 640.5 1033.1 640.8 1046.6C642 1097 642.4 1122.2 642.5 1197.9C642.7 1123 644.5 1048.1 646.6 1048.1C648.4 1048.1 649.6 1076.4 650.1 1090.6C651.7 1134.4 652.6 1156.3 652.8 1222.1C653 1156.9 654.2 1091.8 655.7 1091.8C657 1091.8 658.2 1128.3 658.4 1164.9C658.6 1123.8 659.7 1082.8 661 1082.8C661.8 1082.8 662.5 1132.7 662.6 1182.6C662.9 1121.3 666 1100.9 668 1060C669.4 1031.1 671.3 1002 672.7 973.4C673.3 1015.5 674.7 1037.2 674.8 1101C675.1 1056.3 677.5 1011.6 680.2 1011.6C682.1 1011.6 683.2 1063.8 684 1090C685.4 1137 686.6 1160.5 686.8 1230.9C687 1149.8 688.5 1068.6 690.2 1068.6C691.5 1068.6 692.6 1089.8 692.8 1111C692.9 1093.5 694 1076 695.2 1076C696.1 1076 696.9 1119 697 1162C697.1 1118.7 697.8 1075.3 698.6 1075.3C699.5 1075.3 700.3 1145.8 700.4 1216.2C700.6 1111.7 702.9 1076.1 704 1007.1C704.5 1033.2 705.7 1046.6 705.8 1086.1C706.3 1036.2 710 986.2 714.2 986.2C717 986.2 719.6 1063.8 719.9 1141.5C720.1 1090.8 721.5 1040.1 723.2 1040.1C725.4 1040.1 727.3 1136.2 727.6 1232.4C727.7 1149.7 728.8 1067 730 1067C731.5 1067 732.8 1135 733 1203C733.2 1131.7 734.3 1060.3 735.6 1060.3C736.6 1060.3 737.5 1184.8 737.6 1309.2C737.9 1179.6 739.3 1136.4 742 1050C742.9 1022.2 745.1 966.7 748.3 966.7C750.1 966.7 751.7 1073.8 751.9 1181C752.2 1092.2 754 1003.4 756.1 1003.4C759.5 1003.4 762.6 1067.3 763 1131.2C763.2 1090.2 764.3 1049.1 765.6 1049.1C767.3 1049.1 768.8 1120 769 1190.9C769.2 1121.2 770.3 1051.4 771.6 1051.4C772.8 1051.4 773.9 1121.3 774 1191.3C774.2 1115.7 776.5 1090.4 778 1040C779.1 1003.1 780.7 965.8 781.9 929.2C782.5 976.6 783.7 1001 783.8 1072.8C784.2 1024.6 786.8 976.4 789.9 976.4C793 976.4 795.7 1057.5 796.1 1138.5C796.3 1085.5 797.9 1032.6 799.6 1032.6C801.7 1032.6 803.5 1092.2 803.8 1151.8C803.9 1099.7 805 1047.6 806.3 1047.6C807.8 1047.6 809 1140.5 809.2 1233.5C809.3 1151.8 810 1070 810.8 1070C811.5 1070 812.1 1117 812.2 1163.9C812.3 1096 812.9 1028.1 813.6 1028.1C814.6 1028.1 815.5 1048.8 815.6 1069.5C815.8 1034.8 817.3 1023.1 819 1000C820 986.6 821.3 959.9 823.6 959.9C826 959.9 828.2 1016.5 828.5 1073C828.8 1037.8 830.7 1002.7 832.9 1002.7C835.6 1002.7 838.1 1079.1 838.4 1155.4C838.5 1096.2 839.6 1037.1 840.8 1037.1C842.1 1037.1 843.2 1073.5 843.4 1110C843.5 1074 844.6 1037.9 845.8 1037.9C846.8 1037.9 847.8 1107.5 847.9 1177C848.2 1103.5 851.1 1079 853 1030C854.5 991.4 856.5 952.4 858 914.2C858.9 971 860.8 1000.2 861 1086.3C861.3 1030.2 863.2 974.2 865.5 974.2C868.4 974.2 871 1040 871.3 1105.8C871.5 1064.7 873.3 1023.6 875.3 1023.6C877 1023.6 878.5 1067.5 878.7 1111.5C878.9 1074 880 1036.4 881.2 1036.4C882.2 1036.4 883.2 1094 883.3 1151.5C883.4 1113.2 884.1 1075 885 1075C885.9 1075 886.6 1101.3 886.7 1127.7C887 1048.7 889.7 1021.8 891 969.7C891.7 994.8 893.1 1007.8 893.2 1045.8C893.6 1002.5 896.2 959.2 899.3 959.2C902.1 959.2 904.7 1017.2 905 1075.3C905.2 1039.8 907 1004.2 909 1004.2C911.1 1004.2 913 1071.5 913.3 1138.7C913.4 1083.8 914.5 1028.9 915.7 1028.9C917 1028.9 918.1 1094.9 918.3 1160.9C918.4 1097.2 919.3 1033.4 920.4 1033.4C921.5 1033.4 922.5 1100.7 922.6 1167.9C922.9 1104 926.1 1082.6 928 1040C929.7 1003.6 931.8 966.8 933.4 930.7C934.5 985.7 937 1014.1 937.2 1097.5C937.5 1038 939.5 978.4 941.8 978.4C944.6 978.4 947.2 1044.5 947.5 1110.5C947.7 1064.8 948.9 1019 950.3 1019C952.2 1019 954 1152 954.2 1285.1C954.3 1155.6 955.2 1026.1 956.2 1026.1C957.2 1026.1 958.1 1072.1 958.2 1118.1C958.3 1089 958.8 1060 959.4 1060C960 1060 960.5 1083.8 960.6 1107.5C960.8 1053.8 963.2 1035.8 964.5 1000C965.9 961.3 967.3 922.2 968.5 883.9C969.1 936.9 970.3 964.2 970.4 1044.5C970.7 1003.3 972.9 962.1 975.4 962.1C977.9 962.1 980.1 1052.2 980.4 1142.2C980.6 1073.3 982.3 1004.5 984.3 1004.5C986.5 1004.5 988.5 1052 988.8 1099.5C988.9 1060.6 989.9 1021.7 991 1021.7C992 1021.7 992.9 1088 993 1154.3C993.1 1102.2 993.9 1050 994.8 1050C995.6 1050 996.4 1106.5 996.5 1162.9C996.7 1077.7 999.2 1048.7 1000.3 992.5C1001 1001 1002.4 1005.4 1002.5 1018.3C1002.9 980.5 1005.5 942.7 1008.6 942.7C1011 942.7 1013.2 1024.5 1013.5 1106.2C1013.8 1045.7 1015.6 985.1 1017.8 985.1C1020.3 985.1 1022.6 1053.5 1022.9 1122C1023 1069.7 1024.2 1017.3 1025.4 1017.3C1027.1 1017.3 1028.5 1058.9 1028.7 1100.5C1028.8 1060.7 1029.7 1020.8 1030.7 1020.8C1031.5 1020.8 1032.1 1059.7 1032.2 1098.5C1032.3 1066.8 1032.7 1035 1033.2 1035C1033.8 1035 1034.3 1066.2 1034.4 1097.5C1034.7 1048.8 1037.6 1032.5 1039 1000C1040.7 960.3 1042.2 920.2 1043.6 880.9C1044.4 973.6 1046.2 1021.4 1046.4 1161.9C1046.7 1066.2 1048.7 970.4 1051 970.4C1053.7 970.4 1056.1 1030.2 1056.4 1089.9C1056.6 1049.2 1058.2 1008.4 1059.9 1008.4C1061.6 1008.4 1063.1 1067.2 1063.3 1126.1C1063.4 1072.2 1064.2 1018.2 1065.2 1018.2C1066.1 1018.2 1066.9 1061.8 1067 1105.5C1067.1 1065.3 1068 1025.2 1068.9 1025.2C1070 1025.2 1070.9 1093.6 1071 1161.9C1071.4 1057.8 1075.3 1022.4 1077.2 953.7C1077.7 981.5 1078.6 995.9 1078.7 1038C1079 998 1081.5 958.1 1084.3 958.1C1087 958.1 1089.4 1053.5 1089.7 1148.8C1089.9 1072.5 1091.6 996.1 1093.5 996.1C1095.8 996.1 1097.9 1054.5 1098.2 1113C1098.3 1066.9 1099.3 1020.8 1100.5 1020.8C1102.1 1020.8 1103.5 1081 1103.7 1141.2C1103.8 1083.2 1104.6 1025.2 1105.5 1025.2C1107 1025.2 1108.4 1061.2 1108.6 1097.3C1109.2 1012.6 1113.4 928 1118.2 928C1120.5 928 1122.5 1047.5 1122.8 1166.9C1123.1 1076.6 1124.9 986.3 1127 986.3C1129.5 986.3 1131.6 1052.2 1131.9 1118.1C1132.1 1068.2 1133.5 1018.2 1135 1018.2C1136.7 1018.2 1138.1 1084.2 1138.3 1150.3C1138.4 1087.8 1139.4 1025.2 1140.6 1025.2C1141.6 1025.2 1142.5 1050.6 1142.6 1076C1142.7 1049.8 1143.4 1023.5 1144.2 1023.5C1145.2 1023.5 1146.1 1093.5 1146.2 1163.5C1146.4 1086.8 1148.6 1061.2 1150 1010C1150.9 975.3 1152.1 940.3 1153 905.9C1153.8 966 1155.4 996.9 1155.6 1087.9C1155.9 1044 1157.9 1000 1160.3 1000C1162.4 1000 1164.2 1080.5 1164.5 1161C1164.7 1089.5 1166.5 1018 1168.6 1018C1170.2 1018 1171.6 1082.2 1171.8 1146.3C1172 1080.2 1173.2 1014 1174.7 1014C1176.2 1014 1177.5 1104.3 1177.7 1194.7C1177.8 1112.8 1178.8 1031 1180 1031C1181.3 1031 1182.5 1065.2 1182.7 1099.4C1182.9 1055.7 1184.2 1012 1185.7 1012C1186.6 1012 1187.3 1107 1187.4 1202C1187.7 1109.7 1189.9 1017.3 1192.4 1017.3C1195.1 1017.3 1197.4 1120.7 1197.7 1224C1197.9 1161.7 1199.5 1099.4 1201.2 1099.4C1203.7 1099.4 1205.9 1152.2 1206.2 1205C1206.4 1169.8 1208.1 1134.6 1210 1134.6C1211.5 1134.6 1212.7 1213.8 1212.9 1293C1213.2 1196.5 1215.7 1164.3 1218 1100C1219.1 1070 1221.3 1040 1223 1010C1224.3 986.7 1225.9 963.1 1227.2 940C1227.9 977 1228.6 1014.7 1229.6 1052C1230.2 1075.6 1231.9 1087.5 1232 1122.9C1232.1 1074.5 1232.9 1026 1233.8 1026C1235.9 1026 1236.9 1043.3 1238 1052C1239 1059.6 1239 1075 1240 1075C1241.1 1075 1241.1 1068.6 1242.2 1068.6C1244.1 1068.6 1244.1 1100 1246 1100C1247.8 1100 1247.8 1096.5 1249.6 1096.5C1251.3 1096.5 1252.9 1142.7 1253.1 1188.9C1253.4 1149.5 1255.7 1136.3 1258 1110C1259 1098.3 1260.7 1086.6 1263 1075C1264.2 1068.8 1265.8 1056.9 1268.6 1056.9C1271.2 1056.9 1273.6 1089.9 1273.9 1122.9C1274.1 1097.2 1275.7 1071.6 1277.4 1071.6C1279.2 1071.6 1280.2 1090.5 1281 1100C1282.7 1120 1284.2 1140 1285 1160C1286.6 1201.8 1288.1 1222.8 1288.3 1285.6C1288.4 1237.8 1289.3 1190 1290.4 1190C1291.2 1190 1292 1210.7 1292.1 1231.4C1292.3 1185.7 1294.8 1170.5 1296 1140C1297.4 1103.3 1298 1066.6 1300 1030C1301.4 1005.7 1303.1 957.2 1306.2 957.2C1307.5 957.2 1308.6 982.9 1308.8 1008.5C1309 993.1 1310.4 977.7 1312 977.7C1313.9 977.7 1315.6 1036.3 1315.8 1095C1316 1056.2 1317.6 1017.3 1319.4 1017.3C1321 1017.3 1322.3 1066.2 1322.5 1115C1322.7 1077.9 1323.8 1040.8 1325.2 1040.8C1326.8 1040.8 1327.5 1073.6 1328.5 1090C1329.7 1110.2 1331.5 1120.3 1331.7 1150.7C1331.9 1095.3 1333.6 1076.9 1335 1040C1336.1 1011.4 1337 954.3 1339 954.3C1340.6 954.3 1342 982.1 1342.2 1010C1342.4 982.1 1343.8 954.3 1345.5 954.3C1347.8 954.3 1349.9 1012.1 1350.2 1070C1350.4 1020.2 1351.5 970.4 1352.8 970.4C1355 970.4 1356.9 1020.2 1357.2 1070C1357.4 1038 1358.6 1006 1360 1006C1361.7 1006 1363.1 1063 1363.3 1120C1363.5 1062 1364.7 1004.1 1366 1004.1C1367.2 1004.1 1368.2 1104.5 1368.3 1205C1368.6 1102.5 1370.4 1068.3 1373 1000C1374.1 970.5 1376.2 911.7 1379.5 911.7C1381.8 911.7 1383.7 1022.9 1384 1134C1384.2 1034.6 1386 935.2 1388 935.2C1390 935.2 1391.9 1003.6 1392.1 1072C1392.2 1019.5 1393.2 966.9 1394.4 966.9C1395.8 966.9 1396.9 1020 1397.1 1073C1397.3 1029.8 1398.5 986.7 1400 986.7C1401 986.7 1402 1109.1 1402.1 1231.4C1402.2 1115.7 1403 1000 1404 1000C1405.1 1000 1406.1 1060 1406.2 1120C1406.4 1055 1408.8 1033.3 1410 990C1411.6 936 1413.2 881.4 1414.6 827.9C1415.1 892.4 1416.3 925.6 1416.4 1023.3C1416.7 970.8 1419.1 918.2 1421.7 918.2C1423.5 918.2 1425.1 980.1 1425.3 1042C1425.5 990 1427.2 938 1429 938C1430.8 938 1432.4 1028.8 1432.6 1119.6C1432.8 1043.2 1434 966.7 1435.5 966.7C1436.8 966.7 1437.8 988.4 1438 1010C1438.2 988.9 1439.2 967.7 1440.5 967.7C1441.5 967.7 1442.4 1112 1442.5 1256.3C1442.7 1097.2 1444.5 938 1446.5 938C1447.7 938 1448.7 970.2 1448.8 1002.5C1449.2 950 1451.9 897.5 1455.1 897.5C1456.9 897.5 1458.5 954.5 1458.7 1011.4C1459 961.3 1461 911.3 1463.2 911.3C1465.2 911.3 1467 962.3 1467.2 1013.4C1467.3 980.7 1468.4 948 1469.6 948C1471 948 1472.3 998.5 1472.5 1049.1C1472.6 1006 1473.5 963 1474.4 963C1475.2 963 1476 1015.1 1476.1 1067.3C1476.2 1027.7 1476.8 988 1477.6 988C1478.3 988 1479 1033 1479.1 1077.9C1479.2 1033 1479.9 988 1480.8 988C1481.7 988 1482.5 1027.1 1482.6 1066.2C1482.8 1010.1 1484.9 991.4 1486 954C1487.3 909.4 1488.7 864.4 1489.8 820.3C1490.6 891.2 1492.2 927.7 1492.4 1035.1C1492.7 964.3 1494.7 893.5 1496.9 893.5C1499.1 893.5 1500.9 954.4 1501.2 1015.3C1501.4 964.8 1502.7 914.3 1504.2 914.3C1506.2 914.3 1508 965.3 1508.2 1016.3C1508.3 977.1 1509.2 938 1510.1 938C1510.9 938 1511.7 997.6 1511.8 1057.2C1512 995.6 1513.5 934 1515.2 934C1516.3 934 1517.4 1116.4 1517.5 1298.8C1517.9 1086.8 1520.5 874.7 1523.6 874.7C1524.7 874.7 1525.6 976.8 1525.7 1078.9C1526 977.8 1528.1 876.7 1530.5 876.7C1532.7 876.7 1534.6 929.7 1534.9 982.7C1535.1 936.2 1536.3 889.6 1537.8 889.6C1539.8 889.6 1541.6 951.5 1541.8 1013.4C1542 966.7 1543.3 920 1544.8 920C1545.9 920 1546.9 984 1547 1048.1C1547.1 985.5 1548.2 923 1549.4 923C1551.2 923 1552.8 990.6 1553 1058.2C1553.2 992.1 1554.6 926 1556.2 926C1557.3 926 1558.4 1005.2 1558.5 1084.4C1558.8 963.2 1561.3 842 1564.2 842C1566 842 1567.6 921.2 1567.8 1000.5C1568.1 938.2 1570.3 876 1572.8 876C1574.4 876 1575.9 927.4 1576.1 978.7C1576.3 940.6 1577.8 902.5 1579.6 902.5C1580.7 902.5 1581.6 961.4 1581.7 1020.3C1581.9 968.6 1583 917 1584.2 917C1585.2 917 1586.2 984.6 1586.3 1052.2C1586.5 990.6 1587.5 929 1588.8 929C1590 929 1591.1 1082.4 1591.3 1235.8C1591.8 1022.6 1596.6 950.1 1598.9 809.4C1599.8 859.1 1601.7 884.6 1601.9 959.9C1602.2 911.5 1604.2 863 1606.4 863C1608.4 863 1610.2 917.4 1610.4 971.8C1610.6 922.9 1611.8 874 1613.3 874C1615.1 874 1616.7 962.5 1616.9 1051.1C1617.1 977.3 1618.2 903.5 1619.5 903.5C1620.8 903.5 1621.8 951.8 1622 1000C1622.2 959.1 1623.4 918.3 1624.8 918.3C1626.3 918.3 1627.7 982.7 1627.9 1047.1C1628.2 965.4 1630 883.7 1632.1 883.7C1633.4 883.7 1634.5 925.3 1634.7 966.9C1635 902.5 1637.2 838 1639.7 838C1641.3 838 1642.8 892.5 1643 947.1C1643.3 902.5 1645.2 858 1647.4 858C1649 858 1650.3 909 1650.5 959.9C1650.7 922.8 1652.2 885.6 1653.9 885.6C1655.2 885.6 1656.4 928.2 1656.6 970.8C1656.7 933.6 1657.7 896.5 1658.7 896.5C1659.8 896.5 1660.7 937.1 1660.8 977.7C1660.9 940.5 1661.9 903.4 1663 903.4C1664.4 903.4 1665.6 1048.5 1665.8 1193.5C1666.1 1044.2 1668.2 994.5 1670 895C1670.9 845 1672.9 794.5 1674.1 745C1675.1 852.2 1677.1 907.5 1677.3 1069.9C1677.5 958.5 1679.2 847 1681.2 847C1683.4 847 1685.3 898 1685.6 949C1685.8 903.5 1687 858 1688.5 858C1690 858 1691.3 902 1691.5 946.1C1691.7 914.9 1692.9 883.7 1694.3 883.7C1695.4 883.7 1696.5 946 1696.6 1008.4C1696.8 953.5 1698.1 898.5 1699.6 898.5C1700.9 898.5 1702.1 970.3 1702.3 1042.1C1702.6 943.5 1705 845 1707.7 845C1709 845 1710.1 881.7 1710.3 918.4C1710.6 875.7 1712.5 833 1714.8 833C1716.4 833 1717.8 883.5 1718 934C1718.1 880.5 1719.5 862.3 1720.2 827C1720.9 841.5 1720.2 856.5 1722.4 871C1723.4 877.3 1723.8 845.6 1724 852C1725.3 901.8 1725.8 926.8 1725.9 1001.5C1726.1 936.1 1727.5 870.8 1729 870.8C1730.1 870.8 1731.1 941.1 1731.2 1011.4C1731.4 941.6 1732.5 871.8 1733.7 871.8C1734.7 871.8 1735.5 915.9 1735.6 960C1735.7 921.4 1736.6 882.7 1737.6 882.7C1739 882.7 1740.2 1025.8 1740.4 1169C1740.9 977.4 1745 785.7 1749.5 785.7C1750.7 785.7 1751.8 860.5 1751.9 935.2C1752.2 884.7 1754.3 834.2 1756.8 834.2C1758.3 834.2 1759.6 878.2 1759.8 922.3C1760 889.1 1761.5 856 1763.3 856C1764.8 856 1766.1 938.6 1766.3 1021.3C1766.4 945.5 1767.5 869.8 1768.7 869.8C1770 869.8 1771.1 925.8 1771.3 981.7C1771.4 929.7 1772.4 877.7 1773.6 877.7C1775.1 877.7 1776.4 961.4 1776.6 1045.1C1777 918.4 1780 791.7 1783.5 791.7C1784.8 791.7 1785.9 874.8 1786.1 957.9C1786.4 890.1 1788.3 822.3 1790.5 822.3C1792.7 822.3 1794.5 871.8 1794.8 921.3C1795 854 1796.6 831.1 1797.4 786.7C1798.6 842.9 1801.1 871.9 1801.3 957C1801.5 907 1802.8 857 1804.3 857C1806.2 857 1807.8 898.5 1808 940C1808.2 900.5 1809.8 860.9 1811.6 860.9C1813 860.9 1814.3 1005.8 1814.5 1150.8C1814.6 1005.3 1815.7 859.9 1816.8 859.9C1818 859.9 1819.1 899.5 1819.3 939.2C1819.6 866.9 1821.9 794.6 1824.5 794.6C1826.5 794.6 1828.4 848.1 1828.6 901.6C1828.8 860.5 1830.1 819.4 1831.6 819.4C1833.3 819.4 1834.8 878.3 1835 937.2C1835.2 889.2 1836.7 841.1 1838.3 841.1C1839.4 841.1 1840.5 871.4 1840.6 901.6C1840.8 876.3 1841.9 851 1843.2 851C1844.2 851 1845.2 886.1 1845.3 921.3C1845.5 889.6 1846.9 858 1848.5 858C1849.8 858 1850.9 961.6 1851.1 1065.2C1851.3 971.1 1853.5 939.7 1855 877C1856 834.3 1857.6 791.2 1858.7 749C1859.6 813 1861.6 846 1861.8 943C1862.1 877.7 1863.9 812.4 1866.1 812.4C1867.9 812.4 1869.5 855.5 1869.7 898.5C1869.9 863.9 1871.2 829.2 1872.6 829.2C1874.1 829.2 1875.4 869.8 1875.6 910.4C1875.8 876.8 1877.1 843.1 1878.6 843.1C1879.8 843.1 1880.9 904 1881 965C1881.1 929.5 1881.8 894 1882.7 894C1883.5 894 1884.2 950.6 1884.3 1007.3C1884.4 918.8 1885.4 888.6 1885.9 830.2C1886.8 930.7 1888.6 982.5 1888.8 1134.7C1889 979.5 1890.6 824.3 1892.4 824.3C1893.9 824.3 1895.2 859.4 1895.4 894.5C1895.7 844 1897.6 793.6 1899.7 793.6C1901.7 793.6 1903.5 843.6 1903.7 893.6C1903.9 840.7 1905.2 787.7 1906.7 787.7C1908.6 787.7 1910.3 925.5 1910.5 1063.2C1910.7 946.2 1912 829.2 1913.6 829.2C1914.8 829.2 1915.9 934.1 1916.1 1039C1916.3 941 1917.6 843.1 1919.1 843.1C1920.8 843.1 1922.2 960.7 1922.4 1078.3C1922.5 959.2 1923.2 840.1 1924.1 840.1C1925 840.1 1925.8 1010 1925.9 1180C1926 1037 1926.8 894 1927.6 894C1928.4 894 1929.1 929.5 1929.2 965C1929.4 857 1931.9 820.3 1933 749C1934 794.7 1936.3 818.3 1936.5 887.6C1936.8 843.6 1938.9 799.6 1941.3 799.6C1942.8 799.6 1944.2 849.5 1944.4 899.5C1944.6 857 1946.1 814.4 1947.8 814.4C1949.3 814.4 1950.6 907.9 1950.8 1001.4C1951 915.3 1952 829.2 1953.3 829.2C1954.3 829.2 1955.2 882.7 1955.3 936.1C1955.4 888 1956.3 840 1957.3 840C1958.1 840 1958.8 904.4 1958.9 968.7C1959 916.4 1959.8 864 1960.6 864C1961.8 864 1962.8 991.3 1962.9 1118.6C1963.2 951.1 1965.8 783.7 1968.6 783.7C1970 783.7 1971.3 968.5 1971.5 1153.3C1971.7 970.5 1973.5 787.7 1975.5 787.7C1977.5 787.7 1979.2 832.7 1979.4 877.7C1979.6 845.1 1981.1 834.2 1982 812.5"/>
<path class="rd2" d="M123.1 923.2C125.3 922.3 127.9 922.1 129.7 920.5C132.3 918.2 134.3 915.1 135.5 911.9C137.8 905.9 139.2 899.6 140.2 893.3C141.8 883 142.6 872.6 143.3 862.2C144.3 846.7 144.7 831.1 145.3 815.5C145.7 805.4 146.1 795.2 146.4 785.2C146.8 799.1 147.2 813.2 147.6 827.2C148.1 845.3 148.3 863.5 149.2 881.6C150.1 901.1 151.5 920.5 153 939.9C154.7 962 157.1 984 158.9 1006C160.4 1024.1 162 1042.2 162.8 1060.4C164.1 1091.5 164.5 1122.6 165.1 1153.7C165.7 1184.8 166.2 1200.3 166.3 1247C166.4 1200.3 166.7 1184.8 167.4 1153.7C167.9 1130.4 167.9 1107 169.8 1083.8C170.9 1070 172.7 1056.2 176.4 1042.9C177.9 1037.5 180.9 1028.6 185.3 1028.6C188 1028.6 189.9 1043.2 190.7 1050.7C192.8 1072 193.1 1093.5 193.9 1114.9C194.7 1137.2 195.3 1148.3 195.4 1181.7C195.5 1148.3 195.9 1137.1 197 1114.9C197.8 1099.3 198.6 1083.7 200.9 1068.2C202.1 1060 204.2 1044.1 207.5 1044.1C209.2 1044.1 210.6 1065.3 211 1076C212.5 1116.8 213.2 1137.2 213.3 1198.4C213.4 1146.9 214 1129.7 215.2 1095.4C215.5 1086 216.6 1067.4 218 1067.4C219.2 1067.4 219.8 1093.9 220.3 1107.1C221.1 1127.8 221.7 1138.2 221.8 1169.3C221.9 1128.4 222.1 1114.8 223.8 1087.6C224.5 1076.5 226.3 1054.6 228.8 1054.6C232.7 1054.6 234.9 1069.9 236.6 1077.9C239.8 1092.6 242.2 1107.6 243.6 1122.6C245.7 1145.9 246.4 1169.2 247.1 1192.6C248.1 1224.3 248.6 1240.2 248.7 1287.8C248.8 1240.2 249.5 1224.3 250.6 1192.6C251.3 1173.1 252.1 1153.7 254.1 1134.3C255.5 1121.2 257.8 1108.2 260.7 1095.4C262.1 1089 263.8 1076.8 266.9 1076.8C270.2 1076.8 272.4 1095.5 273.5 1105.1C276.1 1127.7 277.2 1150.5 278.2 1173.2C279.7 1209 280.7 1227 280.9 1280.8C281 1228.9 281.9 1211.6 283.3 1177.1C283.7 1167.7 284.9 1149.1 286.4 1149.1C287.5 1149.1 288.6 1217.1 288.7 1285.1C288.8 1229.2 289.6 1210.5 291 1173.2C291.7 1153.7 293.3 1134.3 294.9 1114.9C295.6 1106 296.4 1088.4 298 1088.4C299 1088.4 299.9 1107.5 300 1126.5C300.2 1101.7 301.8 1076.8 303.5 1076.8C305.6 1076.8 307.2 1103.4 307.8 1116.8C310 1166.3 311.7 1191 312 1265.3C312.3 1226.6 314.1 1187.9 316.3 1187.9C319.8 1187.9 322.9 1233.4 323.3 1278.9C323.5 1245.5 324.5 1234.3 326 1212C327.1 1195.1 328.8 1178.3 331.1 1161.5C332.3 1152.7 333.8 1135.5 336.5 1135.5C338.4 1135.5 340.2 1178 340.4 1220.6C340.7 1182.9 342.5 1145.2 344.7 1145.2C348 1145.2 349.9 1171.5 351.3 1184.8C354.2 1213 357.1 1227.2 357.5 1269.6C357.8 1227.2 359.6 1184.8 361.8 1184.8C362.8 1184.8 363.6 1201.3 363.7 1217.9C363.9 1187.8 365.6 1157.6 367.6 1157.6C368.4 1157.6 369.1 1165 369.2 1172.4C369.5 1147.5 371.3 1122.6 373.4 1122.6C376.5 1122.6 379.3 1143.6 379.7 1164.6C379.9 1139.8 382.5 1131.5 383.2 1114.9C384.4 1086.9 384.8 1058.6 385.5 1030.9C386.3 1069.5 388 1089.4 388.2 1147.9C388.4 1111.6 390.9 1099.2 392.1 1075.2C392.6 1129.6 393.6 1157.6 393.7 1240C394 1224 396.5 1218.7 398.3 1208.1C399.4 1201.6 401.9 1195.3 402.6 1188.7C404 1176.2 403.9 1163.4 404.5 1151C405 1179.5 406 1194.2 406.1 1237.3C406.3 1214.9 407.7 1207.4 409.6 1192.6C410.8 1183.4 413.4 1174.4 415.4 1165.4C416.6 1160.2 417.4 1149.8 419.3 1149.8C421.6 1149.8 422.8 1191.2 424 1212C425.6 1239.8 427.7 1253.8 427.9 1295.6C428.1 1262.5 429.4 1229.5 431 1229.5C433.1 1229.5 435 1249 435.3 1268.4C435.5 1236.3 436.8 1225.6 438.8 1204.3C439.9 1192.5 442 1180.8 444.6 1169.3C446 1163.3 447.7 1151.8 450.8 1151.8C452.6 1151.8 453.7 1179 454.3 1192.6C455.6 1220.8 456.5 1234.9 456.6 1277.3C456.7 1234.9 457.2 1220.8 458.6 1192.6C458.8 1188.9 460 1181.7 461.3 1181.7C464.2 1181.7 466.1 1209.6 467.1 1223.7C469.2 1251.9 470.4 1266.1 470.6 1308.4C470.7 1263.2 471.8 1217.9 473 1217.9C474.9 1217.9 476.7 1260.7 476.9 1303.4C477.2 1238.3 479.4 1216.6 481.5 1173.2C482.2 1157.9 484.2 1142.4 485.4 1127.3C485.8 1153.1 486.5 1166.3 486.6 1205.4C486.8 1176.7 487.5 1167 489.3 1147.9C489.5 1145.7 490.9 1142.1 492.4 1142.1C495.5 1142.1 497.6 1162.7 498.6 1173.2C500.5 1192.6 501.1 1202.3 501.3 1231.5C501.4 1201.3 502.3 1171.2 503.3 1171.2C504.5 1171.2 505.5 1212.1 505.6 1252.9C505.7 1239.2 506.8 1225.6 507.9 1225.6C509.4 1225.6 510.7 1253 510.9 1280.4C511 1236.8 511.5 1222.3 512.3 1193.3C512.7 1180.8 513.3 1155.7 514.4 1155.7C516.9 1155.7 518.2 1166 519.4 1171.3C521.2 1179.5 522.5 1187.9 523.5 1196.2C524.6 1205 525.7 1209.4 525.8 1222.6C526 1200.6 527.5 1193.2 528.7 1178.6C529.4 1170.4 530 1154 531.4 1154C532.5 1154 533.6 1183.9 533.7 1213.8C533.8 1174.2 534.2 1161 535.2 1134.6C535.5 1127.7 536.4 1114.1 537.5 1114.1C539.3 1114.1 540.7 1129.6 541.1 1137.5C542.9 1176.6 543.8 1196.2 544 1254.8C544.2 1199.4 545.6 1144 547.2 1144C548.8 1144 550.2 1226.1 550.4 1308.2C550.5 1221.4 551.1 1192.4 552.8 1134.6C553.4 1115 555.3 1095.5 557.2 1076C558.3 1064.6 559.4 1041.9 561.6 1041.9C563.4 1041.9 564.9 1090.5 565.1 1139C565.4 1097.5 567.3 1056 569.5 1056C571.7 1056 573.2 1077.1 573.9 1087.7C576 1121.7 577.5 1138.7 577.7 1189.7C577.9 1158.5 579.6 1127.3 581.5 1127.3C583.2 1127.3 584.8 1167.9 585 1208.5C585.1 1162 586 1115.5 587.1 1115.5C588 1115.5 588.8 1211.8 588.9 1308.2C589.1 1206.8 590 1172.9 591.5 1105.3C591.8 1091.6 593 1064.2 594.4 1064.2C595.6 1064.2 596.7 1081.8 596.8 1099.4C597.1 1076.7 599.1 1069.1 601.2 1054C601.9 1049.1 603.1 1039.6 605 1039.6C606.6 1039.6 608 1057.9 608.2 1067.2C609.8 1131.2 610.5 1163.2 610.6 1259.2C610.8 1174.2 612.5 1089.1 614.4 1089.1C615.8 1089.1 617.1 1103.7 617.3 1111.1C618.9 1176.8 619.5 1209.7 619.6 1308.2C619.7 1205.2 620.8 1102.3 622 1102.3C623.5 1102.3 624.7 1181.5 624.9 1260.7C625.1 1181.5 626.2 1155.1 628.2 1102.3C629.1 1078.8 631.1 1055.4 633.4 1032C634.3 1023.3 635.6 1006.2 637.8 1006.2C639.3 1006.2 640.5 1033.1 640.8 1046.6C642 1095.2 642.4 1119.5 642.5 1192.4C642.7 1120.2 644.5 1048.1 646.6 1048.1C648.4 1048.1 649.6 1076.4 650.1 1090.6C651.7 1134.1 652.6 1155.8 652.8 1221.1C653 1156.4 654.2 1091.8 655.7 1091.8C657 1091.8 658.2 1127.8 658.4 1163.9C658.6 1123.3 659.7 1082.8 661 1082.8C661.8 1082.8 662.5 1129.9 662.6 1177.1C662.9 1118.5 666.1 1099 668 1060C669.4 1031.1 671.3 1002 672.7 973.4C673.3 1015.2 674.7 1036.7 674.8 1100C675.1 1055.8 677.5 1011.6 680.2 1011.6C682.1 1011.6 683.2 1063.8 684 1090C685.4 1135.1 686.6 1157.7 686.8 1225.4C687 1147 688.5 1068.6 690.2 1068.6C691.5 1068.6 692.6 1089.3 692.8 1110C692.9 1093 694 1076 695.2 1076C696.1 1076 696.9 1118.5 697 1161C697.1 1118.2 697.8 1075.3 698.6 1075.3C699.5 1075.3 700.3 1145.2 700.4 1215.2C700.6 1111.2 702.9 1075.8 704 1007.1C704.5 1032.8 705.7 1046.1 705.8 1085.1C706.3 1035.7 710 986.2 714.2 986.2C717 986.2 719.6 1063.3 719.9 1140.5C720.1 1090.3 721.5 1040.1 723.2 1040.1C725.4 1040.1 727.3 1135.8 727.6 1231.4C727.7 1149.2 728.8 1067 730 1067C731.5 1067 732.8 1134.5 733 1202C733.2 1131.2 734.3 1060.3 735.6 1060.3C736.6 1060.3 737.5 1184.2 737.6 1308.2C737.9 1179.1 739.3 1136 742 1050C742.9 1022.2 745.1 966.7 748.3 966.7C750.1 966.7 751.7 1073.3 751.9 1180C752.2 1091.7 754 1003.4 756.1 1003.4C759.5 1003.4 762.6 1066.8 763 1130.2C763.2 1089.7 764.3 1049.1 765.6 1049.1C767.3 1049.1 768.8 1117.2 769 1185.4C769.2 1118.4 770.3 1051.4 771.6 1051.4C772.8 1051.4 773.9 1120.8 774 1190.3C774.2 1115.2 776.5 1090.1 778 1040C779.1 1003.1 780.7 965.8 781.9 929.2C782.5 976.3 783.7 1000.5 783.8 1071.8C784.2 1024.1 786.8 976.4 789.9 976.4C793 976.4 795.7 1057 796.1 1137.5C796.3 1085 797.9 1032.6 799.6 1032.6C801.7 1032.6 803.5 1091.7 803.8 1150.8C803.9 1099.2 805 1047.6 806.3 1047.6C807.8 1047.6 809 1137.8 809.2 1228C809.3 1149 810 1070 810.8 1070C811.5 1070 812.1 1116.5 812.2 1162.9C812.3 1095.5 812.9 1028.1 813.6 1028.1C814.6 1028.1 815.5 1046 815.6 1064C815.8 1032 817.4 1021.3 819 1000C820 986.6 821.3 959.9 823.6 959.9C826 959.9 828.2 1016 828.5 1072C828.8 1037.3 830.7 1002.7 832.9 1002.7C835.6 1002.7 838.1 1078.6 838.4 1154.4C838.5 1095.8 839.6 1037.1 840.8 1037.1C842.1 1037.1 843.2 1070.8 843.4 1104.5C843.5 1071.2 844.6 1037.9 845.8 1037.9C846.8 1037.9 847.8 1107 847.9 1176C848.2 1103 851.1 1078.7 853 1030C854.5 991.4 856.5 952.4 858 914.2C858.9 970.7 860.8 999.8 861 1085.3C861.3 1029.8 863.2 974.2 865.5 974.2C868.4 974.2 871 1037.2 871.3 1100.3C871.5 1062 873.3 1023.6 875.3 1023.6C877 1023.6 878.5 1067 878.7 1110.5C878.9 1073.5 880 1036.4 881.2 1036.4C882.2 1036.4 883.2 1091.2 883.3 1146C883.4 1110.5 884.1 1075 885 1075C885.9 1075 886.6 1100.8 886.7 1126.7C887 1048.2 889.7 1021.5 891 969.7C891.7 994.5 893.1 1007.2 893.2 1044.8C893.6 1002 896.2 959.2 899.3 959.2C902.1 959.2 904.7 1016.8 905 1074.3C905.2 1039.2 907 1004.2 909 1004.2C911.1 1004.2 913 1071 913.3 1137.7C913.4 1083.3 914.5 1028.9 915.7 1028.9C917 1028.9 918.1 1094.4 918.3 1159.9C918.4 1096.7 919.3 1033.4 920.4 1033.4C921.5 1033.4 922.5 1100.2 922.6 1166.9C922.9 1103.5 926.1 1082.3 928 1040C929.7 1003.6 931.8 966.8 933.4 930.7C934.5 983.9 937 1011.4 937.2 1092C937.5 1035.2 939.5 978.4 941.8 978.4C944.6 978.4 947.2 1044 947.5 1109.5C947.7 1064.2 948.9 1019 950.3 1019C952.2 1019 954 1151.5 954.2 1284.1C954.3 1155.1 955.2 1026.1 956.2 1026.1C957.2 1026.1 958.1 1069.3 958.2 1112.6C958.3 1086.3 958.8 1060 959.4 1060C960 1060 960.5 1083.2 960.6 1106.5C960.8 1053.2 963.2 1035.5 964.5 1000C965.9 961.3 967.3 922.2 968.5 883.9C969.1 936.6 970.3 963.7 970.4 1043.5C970.7 1002.8 972.9 962.1 975.4 962.1C977.9 962.1 980.1 1049.4 980.4 1136.7C980.6 1070.6 982.3 1004.5 984.3 1004.5C986.5 1004.5 988.5 1051.5 988.8 1098.5C988.9 1060.1 989.9 1021.7 991 1021.7C992 1021.7 992.9 1085.2 993 1148.8C993.1 1099.4 993.9 1050 994.8 1050C995.6 1050 996.4 1106 996.5 1161.9C996.7 1077.2 999.2 1048.4 1000.3 992.5C1001 1000.7 1002.4 1004.9 1002.5 1017.3C1002.9 980 1005.5 942.7 1008.6 942.7C1011 942.7 1013.2 1021.7 1013.5 1100.7C1013.8 1042.9 1015.6 985.1 1017.8 985.1C1020.3 985.1 1022.6 1053 1022.9 1121C1023 1069.2 1024.2 1017.3 1025.4 1017.3C1027.1 1017.3 1028.5 1056.2 1028.7 1095C1028.8 1057.9 1029.7 1020.8 1030.7 1020.8C1031.5 1020.8 1032.1 1056.9 1032.2 1093C1032.3 1064 1032.7 1035 1033.2 1035C1033.8 1035 1034.3 1063.5 1034.4 1092C1034.7 1046 1037.7 1030.7 1039 1000C1040.7 960.3 1042.2 920.2 1043.6 880.9C1044.4 973.3 1046.2 1020.9 1046.4 1160.9C1046.7 1065.7 1048.7 970.4 1051 970.4C1053.7 970.4 1056.1 1027.4 1056.4 1084.4C1056.6 1046.4 1058.2 1008.4 1059.9 1008.4C1061.6 1008.4 1063.1 1064.5 1063.3 1120.6C1063.4 1069.4 1064.2 1018.2 1065.2 1018.2C1066.1 1018.2 1066.9 1061.3 1067 1104.5C1067.1 1064.8 1068 1025.2 1068.9 1025.2C1070 1025.2 1070.9 1093.1 1071 1160.9C1071.4 1057.3 1075.3 1022.1 1077.2 953.7C1077.7 979.7 1078.6 993.1 1078.7 1032.5C1079 995.3 1081.5 958.1 1084.3 958.1C1087 958.1 1089.4 1053 1089.7 1147.8C1089.9 1072 1091.6 996.1 1093.5 996.1C1095.8 996.1 1097.9 1051.8 1098.2 1107.5C1098.3 1064.2 1099.3 1020.8 1100.5 1020.8C1102.1 1020.8 1103.5 1078.2 1103.7 1135.7C1103.8 1080.5 1104.6 1025.2 1105.5 1025.2C1107 1025.2 1108.4 1058.5 1108.6 1091.8C1109.2 1009.9 1113.4 928 1118.2 928C1120.5 928 1122.5 1047 1122.8 1165.9C1123.1 1076.1 1124.9 986.3 1127 986.3C1129.5 986.3 1131.6 1049.4 1131.9 1112.6C1132.1 1065.4 1133.5 1018.2 1135 1018.2C1136.7 1018.2 1138.1 1081.5 1138.3 1144.8C1138.4 1085 1139.4 1025.2 1140.6 1025.2C1141.6 1025.2 1142.5 1050.1 1142.6 1075C1142.7 1049.2 1143.4 1023.5 1144.2 1023.5C1145.2 1023.5 1146.1 1093 1146.2 1162.5C1146.4 1086.2 1148.7 1060.8 1150 1010C1150.9 975.3 1152.1 940.3 1153 905.9C1153.8 964.1 1155.4 994.2 1155.6 1082.4C1155.9 1032.2 1157.9 981.9 1160.3 981.9C1162.6 981.9 1164.6 1047.2 1164.9 1112.6C1165.1 1064.5 1166.8 1016.4 1168.6 1016.4C1170.4 1016.4 1172 1062 1172.2 1107.5C1172.4 1059.8 1173.5 1012 1174.7 1012C1176.3 1012 1177.8 1084 1178 1155.9C1178.1 1092.8 1179 1029.6 1180 1029.6C1181.5 1029.6 1182.8 1062.3 1183 1095C1183.2 1050.4 1184.3 1005.8 1185.7 1005.8C1186.7 1005.8 1187.6 1055.2 1187.7 1104.5C1188 1037.9 1190.2 971.3 1192.8 971.3C1195.8 971.3 1198.4 1037.4 1198.8 1103.5C1199.1 1062.6 1200.9 1021.7 1203 1021.7C1205.2 1021.7 1207.1 1072.7 1207.4 1123.6C1207.5 1084.8 1208.6 1046.1 1209.8 1046.1C1211.3 1046.1 1212.6 1093.4 1212.8 1140.8C1213 1094.9 1214.3 1049.1 1215.9 1049.1C1217.9 1049.1 1219.7 1108.5 1219.9 1167.9C1220.4 1049.3 1225.2 1009 1227.4 930.7C1228.7 990.7 1231.5 1021.6 1231.8 1112.6C1232 1081.8 1233.4 1051.1 1235 1051.1C1237.5 1051.1 1239.7 1153.1 1240 1255.1C1240.2 1172.8 1242 1090.4 1244 1090.4C1246 1090.4 1247.9 1149.3 1248.1 1208.2C1248.3 1157.3 1249.6 1106.5 1251.1 1106.5C1252 1106.5 1252.9 1143.2 1253 1180C1253.4 1112 1256.3 1044.1 1259.6 1044.1C1261.3 1044.1 1262.8 1082.8 1263 1121.6C1263.2 1100.8 1264.7 1080 1266.3 1080C1267.3 1080 1268.3 1094 1268.4 1108C1268.6 1089.7 1269.8 1071.3 1271.2 1071.3C1272.7 1071.3 1274 1091.7 1274.2 1112C1274.4 1095.2 1275.6 1078.4 1276.9 1078.4C1278.2 1078.4 1279.2 1089.2 1279.4 1100C1279.5 1094 1280.1 1088 1280.8 1088C1281.8 1088 1282.6 1147.8 1282.7 1207.6C1282.8 1141.6 1283.7 1075.6 1284.7 1075.6C1286.7 1075.6 1288.4 1118.8 1288.6 1162C1288.8 1103.8 1291.4 1084 1292.6 1045.6C1293.1 1090.3 1294.1 1113.3 1294.2 1181C1294.4 1101.2 1295.6 1021.3 1297 1021.3C1298.6 1021.3 1300 1058.2 1300.2 1095C1300.4 1081.2 1301.7 1067.5 1303.2 1067.5C1305.7 1067.5 1307.8 1089 1308.1 1110.5C1308.3 1082.8 1310.1 1055.2 1312.1 1055.2C1314.3 1055.2 1316.2 1094.5 1316.5 1133.7C1316.7 1111.8 1318.2 1090 1320 1090C1321.6 1090 1323 1137 1323.2 1184C1323.3 1140.2 1324.4 1096.5 1325.6 1096.5C1328.1 1096.5 1330.3 1183 1330.6 1269.6C1330.7 1194.8 1331.8 1120 1333 1120C1334 1120 1335 1155 1335.1 1190.1C1335.3 1115 1336.7 1040 1338.2 1040C1339.8 1040 1341.1 1065.2 1341.3 1090.4C1341.7 1043 1344.6 995.6 1347.9 995.6C1349.3 995.6 1350.6 1035.8 1350.8 1076C1351 1037.2 1352.6 998.5 1354.4 998.5C1355.9 998.5 1357.2 1036.9 1357.4 1075.3C1357.6 1057.7 1358.7 1040 1360 1040C1361.7 1040 1363.1 1078.3 1363.3 1116.6C1363.5 1080.8 1364.7 1045 1366 1045C1367.2 1045 1368.2 1119 1368.3 1193C1369 1063.6 1374.4 934.2 1380.5 934.2C1382.2 934.2 1383.8 1033.5 1384 1132.7C1384.3 1042.8 1386.2 953 1388.4 953C1390.2 953 1391.9 1011.6 1392.1 1070.3C1392.2 1030.2 1393.3 990 1394.5 990C1395.8 990 1396.9 1030.7 1397.1 1071.3C1397.2 1035.7 1398.3 1000 1399.5 1000C1400.8 1000 1401.9 1104.6 1402.1 1209.2C1402.2 1109.6 1403 1010 1404 1010C1405.1 1010 1406.1 1064.3 1406.2 1118.6C1406.4 1059.3 1408.7 1039.5 1410 1000C1411.5 956 1413.2 911.5 1414.6 867.9C1415.1 919.2 1416.3 945.6 1416.4 1023.3C1416.7 978.8 1419.1 934.2 1421.7 934.2C1423.5 934.2 1425.1 988.1 1425.3 1042C1425.5 998 1427.2 954 1429 954C1430.8 954 1432.4 1036.8 1432.6 1119.6C1432.8 1051.2 1434 982.7 1435.5 982.7C1436.8 982.7 1437.8 996.4 1438 1010C1438.2 994.9 1439.2 979.7 1440.5 979.7C1441.5 979.7 1442.4 1099 1442.5 1218.3C1442.7 1084.2 1444.5 950 1446.5 950C1447.7 950 1448.7 976.2 1448.8 1002.5C1449.2 956 1451.9 909.5 1455.1 909.5C1456.9 909.5 1458.5 960.5 1458.7 1011.4C1459 967.3 1461 923.3 1463.2 923.3C1465.2 923.3 1467 968.3 1467.2 1013.4C1467.3 986.7 1468.4 960 1469.6 960C1471 960 1472.3 1004.5 1472.5 1049.1C1472.6 1012 1473.5 975 1474.4 975C1475.2 975 1476 1021.1 1476.1 1067.3C1476.2 1033.7 1476.8 1000 1477.6 1000C1478.3 1000 1479 1039 1479.1 1077.9C1479.2 1039 1479.9 1000 1480.8 1000C1481.7 1000 1482.5 1033.1 1482.6 1066.2C1482.8 1013.1 1484.9 995.4 1486 960C1487.3 917.4 1488.7 874.4 1489.8 832.3C1490.6 899.2 1492.2 933.7 1492.4 1035.1C1492.7 970.3 1494.7 905.5 1496.9 905.5C1499.1 905.5 1500.9 960.4 1501.2 1015.3C1501.4 970.8 1502.7 926.3 1504.2 926.3C1506.2 926.3 1508 971.3 1508.2 1016.3C1508.3 983.1 1509.2 950 1510.1 950C1510.9 950 1511.7 1003.6 1511.8 1057.2C1512 1001.6 1513.5 946 1515.2 946C1516.3 946 1517.4 1122.4 1517.5 1298.8C1517.9 1092.8 1520.5 886.7 1523.6 886.7C1524.7 886.7 1525.6 982.8 1525.7 1078.9C1526 983.8 1528.1 888.7 1530.5 888.7C1532.7 888.7 1534.6 935.7 1534.9 982.7C1535.1 942.2 1536.3 901.6 1537.8 901.6C1539.8 901.6 1541.6 957.5 1541.8 1013.4C1542 972.7 1543.3 932 1544.8 932C1545.9 932 1546.9 990 1547 1048.1C1547.1 991.5 1548.2 935 1549.4 935C1551.2 935 1552.8 996.6 1553 1058.2C1553.2 998.1 1554.6 938 1556.2 938C1557.3 938 1558.4 1011.2 1558.5 1084.4C1558.8 968.2 1561.3 852 1564.2 852C1566 852 1567.6 926.2 1567.8 1000.5C1568.1 943.2 1570.3 886 1572.8 886C1574.4 886 1575.9 932.4 1576.1 978.7C1576.3 945.6 1577.8 912.5 1579.6 912.5C1580.7 912.5 1581.6 966.4 1581.7 1020.3C1581.9 973.6 1583 927 1584.2 927C1585.2 927 1586.2 989.6 1586.3 1052.2C1586.5 995.6 1587.5 939 1588.8 939C1590 939 1591.1 1087.4 1591.3 1235.8C1591.8 1027.6 1596.6 956.8 1598.9 819.4C1599.8 865.8 1601.7 889.6 1601.9 959.9C1602.2 916.5 1604.2 873 1606.4 873C1608.4 873 1610.2 922.4 1610.4 971.8C1610.6 927.9 1611.8 884 1613.3 884C1615.1 884 1616.7 967.5 1616.9 1051.1C1617.1 982.3 1618.2 913.5 1619.5 913.5C1620.8 913.5 1621.8 956.8 1622 1000C1622.2 964.1 1623.4 928.3 1624.8 928.3C1626.3 928.3 1627.7 987.7 1627.9 1047.1C1628.2 970.4 1630 893.7 1632.1 893.7C1633.4 893.7 1634.5 930.3 1634.7 966.9C1635 907.5 1637.2 848 1639.7 848C1641.3 848 1642.8 897.5 1643 947.1C1643.3 907.5 1645.2 868 1647.4 868C1649 868 1650.3 914 1650.5 959.9C1650.7 927.8 1652.2 895.6 1653.9 895.6C1655.2 895.6 1656.4 933.2 1656.6 970.8C1656.7 938.6 1657.7 906.5 1658.7 906.5C1659.8 906.5 1660.7 942.1 1660.8 977.7C1660.9 945.5 1661.9 913.4 1663 913.4C1664.4 913.4 1665.6 1053.5 1665.8 1193.5C1666.1 1046.8 1668.1 997.8 1670 900C1670.9 851.7 1672.9 802.9 1674.1 755C1675.1 858.9 1677.1 912.5 1677.3 1069.9C1677.5 963.5 1679.2 857 1681.2 857C1683.4 857 1685.3 903 1685.6 949C1685.8 908.5 1687 868 1688.5 868C1690 868 1691.3 907 1691.5 946.1C1691.7 919.9 1692.9 893.7 1694.3 893.7C1695.4 893.7 1696.5 951 1696.6 1008.4C1696.8 958.5 1698.1 908.5 1699.6 908.5C1700.9 908.5 1702.1 975.3 1702.3 1042.1C1702.6 947.5 1705 853 1707.7 853C1709 853 1710.1 885.7 1710.3 918.4C1710.6 879.7 1712.5 841 1714.8 841C1716.4 841 1717.8 887.5 1718 934C1718.1 884.5 1719.5 867.7 1720.2 835C1720.9 848.2 1720 861.9 1722.4 875C1723.5 881.3 1723.8 849.6 1724 856C1725.3 904.5 1725.8 928.8 1725.9 1001.5C1726.1 940.1 1727.5 878.8 1729 878.8C1730.1 878.8 1731.1 945.1 1731.2 1011.4C1731.4 945.6 1732.5 879.8 1733.7 879.8C1734.7 879.8 1735.5 919.9 1735.6 960C1735.7 925.4 1736.6 890.7 1737.6 890.7C1739 890.7 1740.2 1029.8 1740.4 1169C1740.9 981.4 1745 793.7 1749.5 793.7C1750.7 793.7 1751.8 864.5 1751.9 935.2C1752.2 888.7 1754.3 842.2 1756.8 842.2C1758.3 842.2 1759.6 882.2 1759.8 922.3C1760 893.1 1761.5 864 1763.3 864C1764.8 864 1766.1 942.6 1766.3 1021.3C1766.4 949.5 1767.5 877.8 1768.7 877.8C1770 877.8 1771.1 929.8 1771.3 981.7C1771.4 933.7 1772.4 885.7 1773.6 885.7C1775.1 885.7 1776.4 965.4 1776.6 1045.1C1777 922.4 1780 799.7 1783.5 799.7C1784.8 799.7 1785.9 878.8 1786.1 957.9C1786.4 894.1 1788.3 830.3 1790.5 830.3C1792.7 830.3 1794.5 875.8 1794.8 921.3C1795 858 1796.6 836.5 1797.4 794.7C1798.6 848.3 1801.1 875.9 1801.3 957C1801.5 911 1802.8 865 1804.3 865C1806.2 865 1807.8 902.5 1808 940C1808.2 904.5 1809.8 868.9 1811.6 868.9C1813 868.9 1814.3 1009.8 1814.5 1150.8C1814.6 1009.3 1815.7 867.9 1816.8 867.9C1818 867.9 1819.1 903.5 1819.3 939.2C1819.6 870.9 1821.9 802.6 1824.5 802.6C1826.5 802.6 1828.4 852.1 1828.6 901.6C1828.8 864.5 1830.1 827.4 1831.6 827.4C1833.3 827.4 1834.8 882.3 1835 937.2C1835.2 893.2 1836.7 849.1 1838.3 849.1C1839.4 849.1 1840.5 875.4 1840.6 901.6C1840.8 880.3 1841.9 859 1843.2 859C1844.2 859 1845.2 890.1 1845.3 921.3C1845.5 893.6 1846.9 866 1848.5 866C1849.8 866 1850.9 965.6 1851.1 1065.2C1851.3 972.6 1853.5 941.7 1855 880C1856 838.3 1857.6 796.2 1858.7 755C1859.6 817 1861.6 849 1861.8 943C1862.1 880.7 1863.9 818.4 1866.1 818.4C1867.9 818.4 1869.5 858.5 1869.7 898.5C1869.9 866.9 1871.2 835.2 1872.6 835.2C1874.1 835.2 1875.4 872.8 1875.6 910.4C1875.8 879.8 1877.1 849.1 1878.6 849.1C1879.8 849.1 1880.9 907 1881 965C1881.1 932.5 1881.8 900 1882.7 900C1883.5 900 1884.2 953.6 1884.3 1007.3C1884.4 921.8 1885.4 892.7 1885.9 836.2C1886.8 934.7 1888.6 985.5 1888.8 1134.7C1889 982.5 1890.6 830.3 1892.4 830.3C1893.9 830.3 1895.2 862.4 1895.4 894.5C1895.7 847 1897.6 799.6 1899.7 799.6C1901.7 799.6 1903.5 846.6 1903.7 893.6C1903.9 843.7 1905.2 793.7 1906.7 793.7C1908.6 793.7 1910.3 928.5 1910.5 1063.2C1910.7 949.2 1912 835.2 1913.6 835.2C1914.8 835.2 1915.9 937.1 1916.1 1039C1916.3 944 1917.6 849.1 1919.1 849.1C1920.8 849.1 1922.2 963.7 1922.4 1078.3C1922.5 962.2 1923.2 846.1 1924.1 846.1C1925 846.1 1925.8 1013 1925.9 1180C1926 1040 1926.8 900 1927.6 900C1928.4 900 1929.1 932.5 1929.2 965C1929.4 860 1931.9 824.3 1933 755C1934 798.8 1936.3 821.3 1936.5 887.6C1936.8 846.6 1938.9 805.6 1941.3 805.6C1942.8 805.6 1944.2 852.5 1944.4 899.5C1944.6 860 1946.1 820.4 1947.8 820.4C1949.3 820.4 1950.6 910.9 1950.8 1001.4C1951 918.3 1952 835.2 1953.3 835.2C1954.3 835.2 1955.2 885.7 1955.3 936.1C1955.4 891 1956.3 846 1957.3 846C1958.1 846 1958.8 907.4 1958.9 968.7C1959 919.4 1959.8 870 1960.6 870C1961.8 870 1962.8 994.3 1962.9 1118.6C1963.2 954.1 1965.8 789.7 1968.6 789.7C1970 789.7 1971.3 971.5 1971.5 1153.3C1971.7 973.5 1973.5 793.7 1975.5 793.7C1977.5 793.7 1979.2 835.7 1979.4 877.7C1979.6 845.1 1981.1 834.2 1982 812.5"/>
</g>
<rect class="ax" x="122.8" y="765.9" width="1858.9" height="542.7"/>
<line class="ax" x1="122.8" y1="1308.6" x2="122.8" y2="1289.6"/>
<line class="ax" x1="122.8" y1="765.9" x2="122.8" y2="784.9"/>
<text class="tk" x="122.8" y="1360.1" text-anchor="middle" textLength="21.3" lengthAdjust="spacingAndGlyphs">0</text>
<line class="ax" x1="308.7" y1="1308.6" x2="308.7" y2="1289.6"/>
<line class="ax" x1="308.7" y1="765.9" x2="308.7" y2="784.9"/>
<text class="tk" x="308.7" y="1360.1" text-anchor="middle" textLength="21.3" lengthAdjust="spacingAndGlyphs">2</text>
<line class="ax" x1="494.6" y1="1308.6" x2="494.6" y2="1289.6"/>
<line class="ax" x1="494.6" y1="765.9" x2="494.6" y2="784.9"/>
<text class="tk" x="494.6" y="1360.1" text-anchor="middle" textLength="21.3" lengthAdjust="spacingAndGlyphs">4</text>
<line class="ax" x1="680.5" y1="1308.6" x2="680.5" y2="1289.6"/>
<line class="ax" x1="680.5" y1="765.9" x2="680.5" y2="784.9"/>
<text class="tk" x="680.5" y="1360.1" text-anchor="middle" textLength="21.3" lengthAdjust="spacingAndGlyphs">6</text>
<line class="ax" x1="866.4" y1="1308.6" x2="866.4" y2="1289.6"/>
<line class="ax" x1="866.4" y1="765.9" x2="866.4" y2="784.9"/>
<text class="tk" x="866.4" y="1360.1" text-anchor="middle" textLength="21.3" lengthAdjust="spacingAndGlyphs">8</text>
<line class="ax" x1="1052.2" y1="1308.6" x2="1052.2" y2="1289.6"/>
<line class="ax" x1="1052.2" y1="765.9" x2="1052.2" y2="784.9"/>
<text class="tk" x="1052.2" y="1360.1" text-anchor="middle" textLength="42.6" lengthAdjust="spacingAndGlyphs">10</text>
<line class="ax" x1="1238.1" y1="1308.6" x2="1238.1" y2="1289.6"/>
<line class="ax" x1="1238.1" y1="765.9" x2="1238.1" y2="784.9"/>
<text class="tk" x="1238.1" y="1360.1" text-anchor="middle" textLength="42.6" lengthAdjust="spacingAndGlyphs">12</text>
<line class="ax" x1="1424" y1="1308.6" x2="1424" y2="1289.6"/>
<line class="ax" x1="1424" y1="765.9" x2="1424" y2="784.9"/>
<text class="tk" x="1424" y="1360.1" text-anchor="middle" textLength="42.6" lengthAdjust="spacingAndGlyphs">14</text>
<line class="ax" x1="1609.9" y1="1308.6" x2="1609.9" y2="1289.6"/>
<line class="ax" x1="1609.9" y1="765.9" x2="1609.9" y2="784.9"/>
<text class="tk" x="1609.9" y="1360.1" text-anchor="middle" textLength="42.6" lengthAdjust="spacingAndGlyphs">16</text>
<line class="ax" x1="1795.8" y1="1308.6" x2="1795.8" y2="1289.6"/>
<line class="ax" x1="1795.8" y1="765.9" x2="1795.8" y2="784.9"/>
<text class="tk" x="1795.8" y="1360.1" text-anchor="middle" textLength="42.6" lengthAdjust="spacingAndGlyphs">18</text>
<line class="ax" x1="1981.7" y1="1308.6" x2="1981.7" y2="1289.6"/>
<line class="ax" x1="1981.7" y1="765.9" x2="1981.7" y2="784.9"/>
<text class="tk" x="1981.7" y="1360.1" text-anchor="middle" textLength="42.6" lengthAdjust="spacingAndGlyphs">20</text>
<line class="ax" x1="122.8" y1="1308.6" x2="141.8" y2="1308.6"/>
<line class="ax" x1="1981.7" y1="1308.6" x2="1962.7" y2="1308.6"/>
<text class="tk" x="108.4" y="1324.2" text-anchor="end" textLength="21.3" lengthAdjust="spacingAndGlyphs">0</text>
<line class="ax" x1="122.8" y1="1194.3" x2="141.8" y2="1194.3"/>
<line class="ax" x1="1981.7" y1="1194.3" x2="1962.7" y2="1194.3"/>
<text class="tk" x="108.4" y="1209.9" text-anchor="end" textLength="42.6" lengthAdjust="spacingAndGlyphs">20</text>
<line class="ax" x1="122.8" y1="1080.1" x2="141.8" y2="1080.1"/>
<line class="ax" x1="1981.7" y1="1080.1" x2="1962.7" y2="1080.1"/>
<text class="tk" x="108.4" y="1095.7" text-anchor="end" textLength="42.6" lengthAdjust="spacingAndGlyphs">40</text>
<line class="ax" x1="122.8" y1="965.8" x2="141.8" y2="965.8"/>
<line class="ax" x1="1981.7" y1="965.8" x2="1962.7" y2="965.8"/>
<text class="tk" x="108.4" y="981.4" text-anchor="end" textLength="42.6" lengthAdjust="spacingAndGlyphs">60</text>
<line class="ax" x1="122.8" y1="851.6" x2="141.8" y2="851.6"/>
<line class="ax" x1="1981.7" y1="851.6" x2="1962.7" y2="851.6"/>
<text class="tk" x="108.4" y="867.2" text-anchor="end" textLength="42.6" lengthAdjust="spacingAndGlyphs">80</text>
<text class="lb" transform="translate(50.1 1104.1) rotate(-90)" textLength="131.8" lengthAdjust="spacingAndGlyphs">NR[dB]</text>
<text class="ttl" x="22" y="743" style="font-size:54px">(b)</text>
<text class="xl" x="1002" y="1407.9"><tspan class="it">k</tspan><tspan class="sb" x="1020.3" dy="6.6">1</tspan><tspan class="it" x="1040" dy="-6.6">R</tspan><tspan class="sb" x="1070" dy="6.6">2</tspan><tspan class="sbi" x="1088">o</tspan></text>
<rect class="ax" x="694.8" y="785.9" width="183.9" height="94.3" fill="#fff"/>
<line class="kb" x1="700.9" y1="810.7" x2="761.1" y2="810.7"/>
<line class="rs" x1="700.9" y1="855.7" x2="761.1" y2="855.7"/>
<text class="lg" x="766.3" y="825"><tspan class="phi">&#981;</tspan><tspan class="eq" x="797.6" dy="1.6">=</tspan><tspan x="825.2" dy="-1.6">1</tspan></text>
<text class="lg" x="766.3" y="868.4"><tspan class="phi">&#981;</tspan><tspan class="eq" x="797.6" dy="1.6">=</tspan><tspan x="825.2" dy="-1.6">0.5</tspan></text>
</g>
</svg>
</body>
</html>
